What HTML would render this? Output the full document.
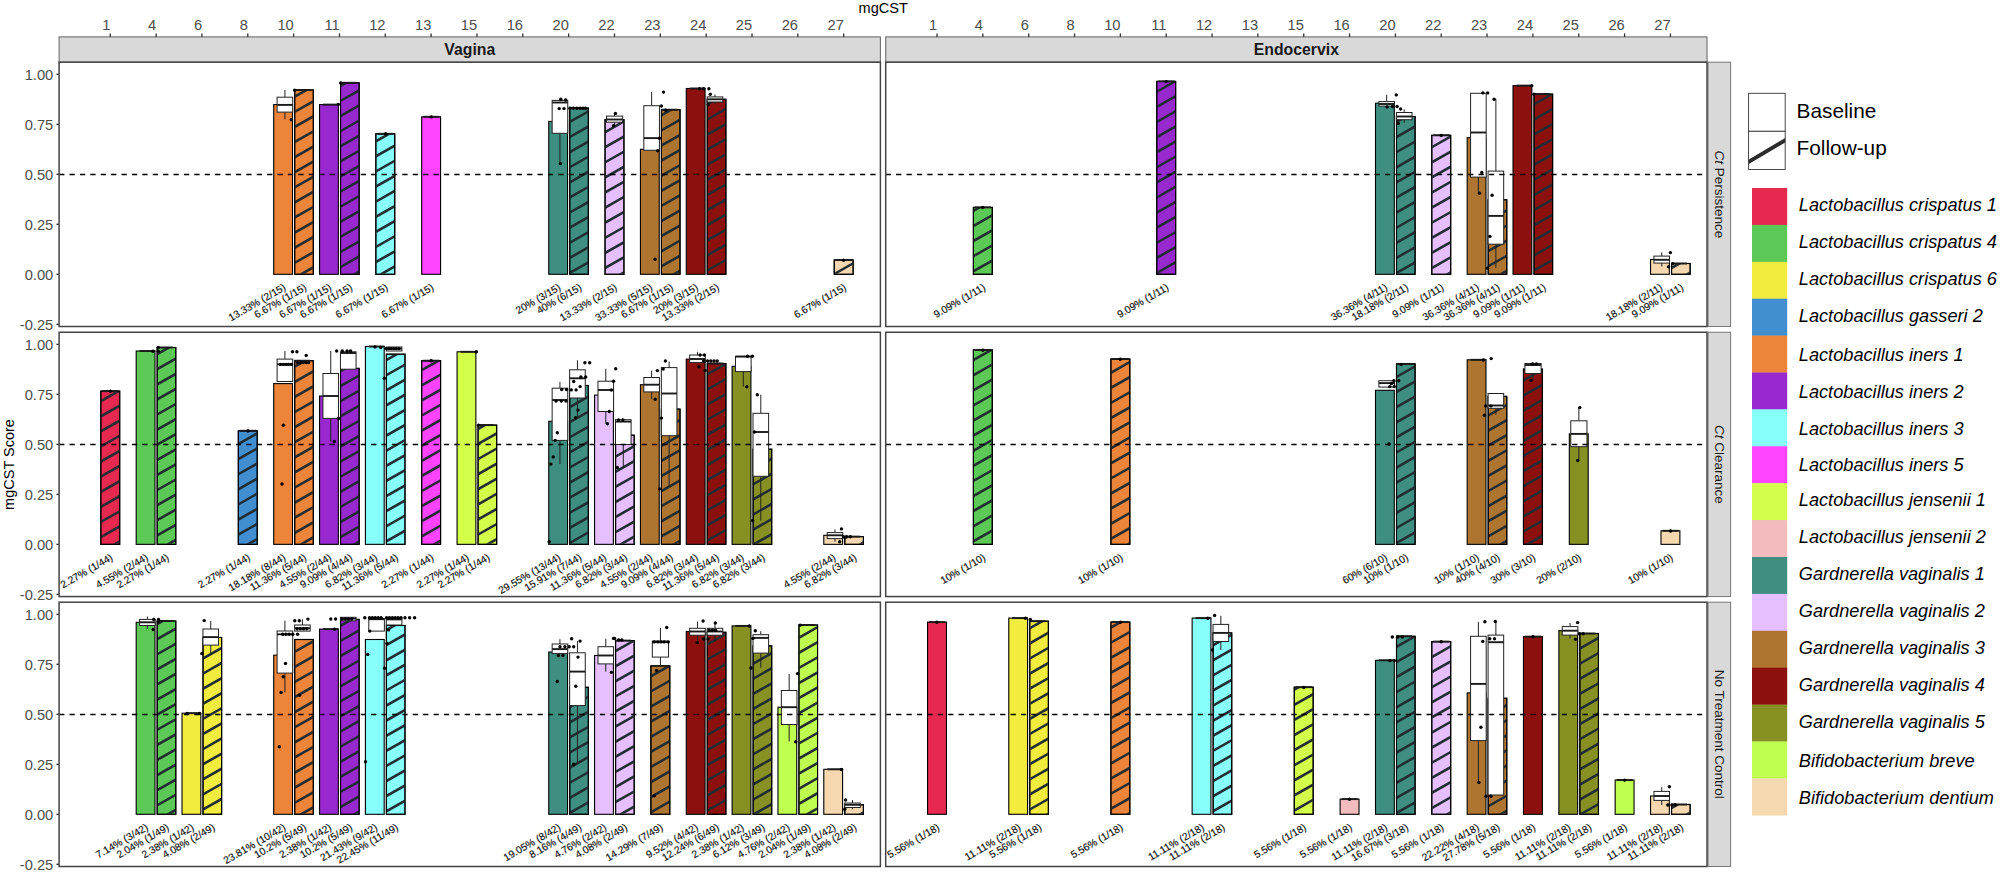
<!DOCTYPE html>
<html lang="en"><head><meta charset="utf-8"><title>mgCST Score by mgCST</title>
<style>html,body{margin:0;padding:0;background:#fff;}body{width:2000px;height:873px;overflow:hidden;}svg{display:block;font-family:'Liberation Sans', sans-serif;}.ax{font-size:14.7px;fill:#4d4d4d;}.ay{font-size:14.7px;fill:#4d4d4d;}.lab{font-size:10.2px;fill:#111;stroke:#111;stroke-width:0.15;}.bar{stroke:#000;stroke-width:1.1;}.bx{fill:#fff;stroke:#222;stroke-width:1;}.wh{stroke:#222;stroke-width:1;fill:none;}.md{stroke:#1a1a1a;stroke-width:1.9;fill:none;}.pt{fill:#000;}.st{stroke:#222d33;stroke-width:2.55;fill:none;}.tk{stroke:#333;stroke-width:1.3;}.leg{font-size:18.2px;font-style:italic;fill:#000;}</style></head><body>
<svg width="2000" height="873" viewBox="0 0 2000 873">
<rect x="0" y="0" width="2000" height="873" fill="#ffffff"/>
<text x="883.2" y="13.3" text-anchor="middle" font-size="14.5" fill="#000">mgCST</text>
<text transform="translate(13.5,464.5) rotate(-90)" text-anchor="middle" font-size="14.5" fill="#000">mgCST Score</text>
<rect x="59.1" y="36.9" width="821.3" height="25.3" fill="#d9d9d9" stroke="#6e6e6e" stroke-width="1.1"/>
<text x="469.75" y="54.85" text-anchor="middle" font-size="15.8" font-weight="bold" fill="#1a1a1a">Vagina</text>
<line class="tk" x1="110.25" y1="33.4" x2="110.25" y2="36.9"/>
<text class="ax" x="110.45" y="30.1" text-anchor="end">1</text>
<line class="tk" x1="156.09" y1="33.4" x2="156.09" y2="36.9"/>
<text class="ax" x="156.29" y="30.1" text-anchor="end">4</text>
<line class="tk" x1="201.93" y1="33.4" x2="201.93" y2="36.9"/>
<text class="ax" x="202.13" y="30.1" text-anchor="end">6</text>
<line class="tk" x1="247.77" y1="33.4" x2="247.77" y2="36.9"/>
<text class="ax" x="247.97" y="30.1" text-anchor="end">8</text>
<line class="tk" x1="293.61" y1="33.4" x2="293.61" y2="36.9"/>
<text class="ax" x="293.81" y="30.1" text-anchor="end">10</text>
<line class="tk" x1="339.45" y1="33.4" x2="339.45" y2="36.9"/>
<text class="ax" x="339.65" y="30.1" text-anchor="end">11</text>
<line class="tk" x1="385.29" y1="33.4" x2="385.29" y2="36.9"/>
<text class="ax" x="385.49" y="30.1" text-anchor="end">12</text>
<line class="tk" x1="431.13" y1="33.4" x2="431.13" y2="36.9"/>
<text class="ax" x="431.33" y="30.1" text-anchor="end">13</text>
<line class="tk" x1="476.97" y1="33.4" x2="476.97" y2="36.9"/>
<text class="ax" x="477.17" y="30.1" text-anchor="end">15</text>
<line class="tk" x1="522.81" y1="33.4" x2="522.81" y2="36.9"/>
<text class="ax" x="523.01" y="30.1" text-anchor="end">16</text>
<line class="tk" x1="568.65" y1="33.4" x2="568.65" y2="36.9"/>
<text class="ax" x="568.85" y="30.1" text-anchor="end">20</text>
<line class="tk" x1="614.49" y1="33.4" x2="614.49" y2="36.9"/>
<text class="ax" x="614.69" y="30.1" text-anchor="end">22</text>
<line class="tk" x1="660.33" y1="33.4" x2="660.33" y2="36.9"/>
<text class="ax" x="660.53" y="30.1" text-anchor="end">23</text>
<line class="tk" x1="706.17" y1="33.4" x2="706.17" y2="36.9"/>
<text class="ax" x="706.37" y="30.1" text-anchor="end">24</text>
<line class="tk" x1="752.01" y1="33.4" x2="752.01" y2="36.9"/>
<text class="ax" x="752.21" y="30.1" text-anchor="end">25</text>
<line class="tk" x1="797.85" y1="33.4" x2="797.85" y2="36.9"/>
<text class="ax" x="798.05" y="30.1" text-anchor="end">26</text>
<line class="tk" x1="843.69" y1="33.4" x2="843.69" y2="36.9"/>
<text class="ax" x="843.89" y="30.1" text-anchor="end">27</text>
<rect x="885.7" y="36.9" width="821.3" height="25.3" fill="#d9d9d9" stroke="#6e6e6e" stroke-width="1.1"/>
<text x="1296.35" y="54.85" text-anchor="middle" font-size="15.8" font-weight="bold" fill="#1a1a1a">Endocervix</text>
<line class="tk" x1="937" y1="33.4" x2="937" y2="36.9"/>
<text class="ax" x="937.2" y="30.1" text-anchor="end">1</text>
<line class="tk" x1="982.84" y1="33.4" x2="982.84" y2="36.9"/>
<text class="ax" x="983.04" y="30.1" text-anchor="end">4</text>
<line class="tk" x1="1028.68" y1="33.4" x2="1028.68" y2="36.9"/>
<text class="ax" x="1028.88" y="30.1" text-anchor="end">6</text>
<line class="tk" x1="1074.52" y1="33.4" x2="1074.52" y2="36.9"/>
<text class="ax" x="1074.72" y="30.1" text-anchor="end">8</text>
<line class="tk" x1="1120.36" y1="33.4" x2="1120.36" y2="36.9"/>
<text class="ax" x="1120.56" y="30.1" text-anchor="end">10</text>
<line class="tk" x1="1166.2" y1="33.4" x2="1166.2" y2="36.9"/>
<text class="ax" x="1166.4" y="30.1" text-anchor="end">11</text>
<line class="tk" x1="1212.04" y1="33.4" x2="1212.04" y2="36.9"/>
<text class="ax" x="1212.24" y="30.1" text-anchor="end">12</text>
<line class="tk" x1="1257.88" y1="33.4" x2="1257.88" y2="36.9"/>
<text class="ax" x="1258.08" y="30.1" text-anchor="end">13</text>
<line class="tk" x1="1303.72" y1="33.4" x2="1303.72" y2="36.9"/>
<text class="ax" x="1303.92" y="30.1" text-anchor="end">15</text>
<line class="tk" x1="1349.56" y1="33.4" x2="1349.56" y2="36.9"/>
<text class="ax" x="1349.76" y="30.1" text-anchor="end">16</text>
<line class="tk" x1="1395.4" y1="33.4" x2="1395.4" y2="36.9"/>
<text class="ax" x="1395.6" y="30.1" text-anchor="end">20</text>
<line class="tk" x1="1441.24" y1="33.4" x2="1441.24" y2="36.9"/>
<text class="ax" x="1441.44" y="30.1" text-anchor="end">22</text>
<line class="tk" x1="1487.08" y1="33.4" x2="1487.08" y2="36.9"/>
<text class="ax" x="1487.28" y="30.1" text-anchor="end">23</text>
<line class="tk" x1="1532.92" y1="33.4" x2="1532.92" y2="36.9"/>
<text class="ax" x="1533.12" y="30.1" text-anchor="end">24</text>
<line class="tk" x1="1578.76" y1="33.4" x2="1578.76" y2="36.9"/>
<text class="ax" x="1578.96" y="30.1" text-anchor="end">25</text>
<line class="tk" x1="1624.6" y1="33.4" x2="1624.6" y2="36.9"/>
<text class="ax" x="1624.8" y="30.1" text-anchor="end">26</text>
<line class="tk" x1="1670.44" y1="33.4" x2="1670.44" y2="36.9"/>
<text class="ax" x="1670.64" y="30.1" text-anchor="end">27</text>
<rect x="1708" y="62.2" width="22.6" height="264.3" fill="#d9d9d9" stroke="#787878" stroke-width="1.0"/>
<text transform="translate(1714.7,194.35) rotate(90)" text-anchor="middle" font-size="13.5" fill="#1a1a1a"><tspan font-style="italic">Ct</tspan> Persistence</text>
<rect x="1708" y="332.25" width="22.6" height="264.3" fill="#d9d9d9" stroke="#787878" stroke-width="1.0"/>
<text transform="translate(1714.7,464.4) rotate(90)" text-anchor="middle" font-size="13.5" fill="#1a1a1a"><tspan font-style="italic">Ct</tspan> Clearance</text>
<rect x="1708" y="602.2" width="22.6" height="264.3" fill="#d9d9d9" stroke="#787878" stroke-width="1.0"/>
<text transform="translate(1714.7,734.35) rotate(90)" text-anchor="middle" font-size="13.5" fill="#1a1a1a">No Treatment Control</text>
<line class="tk" x1="56.4" y1="74.3" x2="59.1" y2="74.3"/>
<text class="ay" x="53.3" y="79.5" text-anchor="end">1.00</text>
<line class="tk" x1="56.4" y1="124.3" x2="59.1" y2="124.3"/>
<text class="ay" x="53.3" y="129.5" text-anchor="end">0.75</text>
<line class="tk" x1="56.4" y1="174.3" x2="59.1" y2="174.3"/>
<text class="ay" x="53.3" y="179.5" text-anchor="end">0.50</text>
<line class="tk" x1="56.4" y1="224.3" x2="59.1" y2="224.3"/>
<text class="ay" x="53.3" y="229.5" text-anchor="end">0.25</text>
<line class="tk" x1="56.4" y1="274.3" x2="59.1" y2="274.3"/>
<text class="ay" x="53.3" y="279.5" text-anchor="end">0.00</text>
<line class="tk" x1="56.4" y1="324.3" x2="59.1" y2="324.3"/>
<text class="ay" x="53.3" y="329.5" text-anchor="end">-0.25</text>
<line class="tk" x1="56.4" y1="344.35" x2="59.1" y2="344.35"/>
<text class="ay" x="53.3" y="349.55" text-anchor="end">1.00</text>
<line class="tk" x1="56.4" y1="394.35" x2="59.1" y2="394.35"/>
<text class="ay" x="53.3" y="399.55" text-anchor="end">0.75</text>
<line class="tk" x1="56.4" y1="444.35" x2="59.1" y2="444.35"/>
<text class="ay" x="53.3" y="449.55" text-anchor="end">0.50</text>
<line class="tk" x1="56.4" y1="494.35" x2="59.1" y2="494.35"/>
<text class="ay" x="53.3" y="499.55" text-anchor="end">0.25</text>
<line class="tk" x1="56.4" y1="544.35" x2="59.1" y2="544.35"/>
<text class="ay" x="53.3" y="549.55" text-anchor="end">0.00</text>
<line class="tk" x1="56.4" y1="594.35" x2="59.1" y2="594.35"/>
<text class="ay" x="53.3" y="599.55" text-anchor="end">-0.25</text>
<line class="tk" x1="56.4" y1="614.3" x2="59.1" y2="614.3"/>
<text class="ay" x="53.3" y="619.5" text-anchor="end">1.00</text>
<line class="tk" x1="56.4" y1="664.3" x2="59.1" y2="664.3"/>
<text class="ay" x="53.3" y="669.5" text-anchor="end">0.75</text>
<line class="tk" x1="56.4" y1="714.3" x2="59.1" y2="714.3"/>
<text class="ay" x="53.3" y="719.5" text-anchor="end">0.50</text>
<line class="tk" x1="56.4" y1="764.3" x2="59.1" y2="764.3"/>
<text class="ay" x="53.3" y="769.5" text-anchor="end">0.25</text>
<line class="tk" x1="56.4" y1="814.3" x2="59.1" y2="814.3"/>
<text class="ay" x="53.3" y="819.5" text-anchor="end">0.00</text>
<line class="tk" x1="56.4" y1="864.3" x2="59.1" y2="864.3"/>
<text class="ay" x="53.3" y="869.5" text-anchor="end">-0.25</text>
<g>
<rect x="59.1" y="62.2" width="821.3" height="264.3" fill="#fff"/>
<rect class="bar" x="273.71" y="104.6" width="18.8" height="169.7" fill="#EC8439"/>
<rect class="bar" x="294.71" y="90" width="18.6" height="184.3" fill="#EC8439"/>
<clipPath id="c1"><rect x="295.21" y="90.5" width="17.6" height="183.3"/></clipPath>
<path class="st" clip-path="url(#c1)" d="M291.71 98.4L316.31 84.45M291.71 113.5L316.31 99.55M291.71 128.6L316.31 114.65M291.71 143.7L316.31 129.75M291.71 158.8L316.31 144.85M291.71 173.9L316.31 159.95M291.71 189L316.31 175.05M291.71 204.1L316.31 190.15M291.71 219.2L316.31 205.25M291.71 234.3L316.31 220.35M291.71 249.4L316.31 235.45M291.71 264.5L316.31 250.55M291.71 279.6L316.31 265.65"/>
<rect x="294.71" y="90" width="18.6" height="184.3" fill="none" stroke="#000" stroke-width="1.1"/>
<rect class="bar" x="319.55" y="104.6" width="18.8" height="169.7" fill="#9829CF"/>
<rect class="bar" x="340.55" y="82.8" width="18.6" height="191.5" fill="#9829CF"/>
<clipPath id="c2"><rect x="341.05" y="83.3" width="17.6" height="190.5"/></clipPath>
<path class="st" clip-path="url(#c2)" d="M337.55 87.51L362.15 73.56M337.55 102.61L362.15 88.66M337.55 117.71L362.15 103.76M337.55 132.81L362.15 118.86M337.55 147.91L362.15 133.96M337.55 163.01L362.15 149.06M337.55 178.11L362.15 164.16M337.55 193.21L362.15 179.26M337.55 208.31L362.15 194.36M337.55 223.41L362.15 209.46M337.55 238.51L362.15 224.56M337.55 253.61L362.15 239.66M337.55 268.71L362.15 254.76M337.55 283.81L362.15 269.86"/>
<rect x="340.55" y="82.8" width="18.6" height="191.5" fill="none" stroke="#000" stroke-width="1.1"/>
<rect class="bar" x="375.84" y="133.8" width="18.9" height="140.5" fill="#87FFFB"/>
<clipPath id="c3"><rect x="376.34" y="134.3" width="17.9" height="139.5"/></clipPath>
<path class="st" clip-path="url(#c3)" d="M372.84 143L397.74 128.88M372.84 158.1L397.74 143.98M372.84 173.2L397.74 159.08M372.84 188.3L397.74 174.18M372.84 203.4L397.74 189.28M372.84 218.5L397.74 204.38M372.84 233.6L397.74 219.48M372.84 248.7L397.74 234.58M372.84 263.8L397.74 249.68M372.84 278.9L397.74 264.78"/>
<rect x="375.84" y="133.8" width="18.9" height="140.5" fill="none" stroke="#000" stroke-width="1.1"/>
<rect class="bar" x="421.68" y="116.8" width="18.9" height="157.5" fill="#FF43FF"/>
<rect class="bar" x="548.75" y="121.4" width="18.8" height="152.9" fill="#3F8E82"/>
<rect class="bar" x="569.75" y="108.1" width="18.6" height="166.2" fill="#3F8E82"/>
<clipPath id="c4"><rect x="570.25" y="108.6" width="17.6" height="165.2"/></clipPath>
<path class="st" clip-path="url(#c4)" d="M566.75 108.55L591.35 94.6M566.75 123.65L591.35 109.7M566.75 138.75L591.35 124.8M566.75 153.85L591.35 139.9M566.75 168.95L591.35 155M566.75 184.05L591.35 170.1M566.75 199.15L591.35 185.2M566.75 214.25L591.35 200.3M566.75 229.35L591.35 215.4M566.75 244.45L591.35 230.5M566.75 259.55L591.35 245.6M566.75 274.65L591.35 260.7M566.75 289.75L591.35 275.8"/>
<rect x="569.75" y="108.1" width="18.6" height="166.2" fill="none" stroke="#000" stroke-width="1.1"/>
<rect class="bar" x="605.04" y="119.7" width="18.9" height="154.6" fill="#E5BFFF"/>
<clipPath id="c5"><rect x="605.54" y="120.2" width="17.9" height="153.6"/></clipPath>
<path class="st" clip-path="url(#c5)" d="M602.04 118.74L626.94 104.63M602.04 133.84L626.94 119.73M602.04 148.94L626.94 134.83M602.04 164.04L626.94 149.93M602.04 179.14L626.94 165.03M602.04 194.24L626.94 180.13M602.04 209.34L626.94 195.23M602.04 224.44L626.94 210.33M602.04 239.54L626.94 225.43M602.04 254.64L626.94 240.53M602.04 269.74L626.94 255.63M602.04 284.84L626.94 270.73"/>
<rect x="605.04" y="119.7" width="18.9" height="154.6" fill="none" stroke="#000" stroke-width="1.1"/>
<rect class="bar" x="640.43" y="149.3" width="18.8" height="125" fill="#AE7530"/>
<rect class="bar" x="661.43" y="109.7" width="18.6" height="164.6" fill="#AE7530"/>
<clipPath id="c6"><rect x="661.93" y="110.2" width="17.6" height="163.6"/></clipPath>
<path class="st" clip-path="url(#c6)" d="M658.43 116.97L683.03 103.02M658.43 132.07L683.03 118.12M658.43 147.17L683.03 133.22M658.43 162.27L683.03 148.32M658.43 177.37L683.03 163.42M658.43 192.47L683.03 178.52M658.43 207.57L683.03 193.62M658.43 222.67L683.03 208.72M658.43 237.77L683.03 223.82M658.43 252.87L683.03 238.92M658.43 267.97L683.03 254.02M658.43 283.07L683.03 269.12"/>
<rect x="661.43" y="109.7" width="18.6" height="164.6" fill="none" stroke="#000" stroke-width="1.1"/>
<rect class="bar" x="686.27" y="88.5" width="18.8" height="185.8" fill="#8C110E"/>
<rect class="bar" x="707.27" y="99.3" width="18.6" height="175" fill="#8C110E"/>
<clipPath id="c7"><rect x="707.77" y="99.8" width="17.6" height="174"/></clipPath>
<path class="st" clip-path="url(#c7)" d="M704.27 106.08L728.87 92.13M704.27 121.18L728.87 107.23M704.27 136.28L728.87 122.33M704.27 151.38L728.87 137.43M704.27 166.48L728.87 152.53M704.27 181.58L728.87 167.63M704.27 196.68L728.87 182.73M704.27 211.78L728.87 197.83M704.27 226.88L728.87 212.93M704.27 241.98L728.87 228.03M704.27 257.08L728.87 243.13M704.27 272.18L728.87 258.23M704.27 287.28L728.87 273.33"/>
<rect x="707.27" y="99.3" width="18.6" height="175" fill="none" stroke="#000" stroke-width="1.1"/>
<rect class="bar" x="834.24" y="260" width="18.9" height="14.3" fill="#F5D8B0"/>
<clipPath id="c8"><rect x="834.74" y="260.5" width="17.9" height="13.3"/></clipPath>
<path class="st" clip-path="url(#c8)" d="M831.24 260.59L856.14 246.47M831.24 275.69L856.14 261.57M831.24 290.79L856.14 276.67"/>
<rect x="834.24" y="260" width="18.9" height="14.3" fill="none" stroke="#000" stroke-width="1.1"/>
<line class="wh" x1="284.91" y1="90" x2="284.91" y2="97.2"/>
<line class="wh" x1="284.91" y1="112.1" x2="284.91" y2="119.3"/>
<rect class="bx" x="277.11" y="97.2" width="15.6" height="14.9"/>
<line class="md" x1="277.11" y1="104.9" x2="292.71" y2="104.9"/>
<line class="md" x1="294.61" y1="90" x2="310.21" y2="90"/>
<line class="md" x1="322.95" y1="104.6" x2="338.55" y2="104.6"/>
<line class="md" x1="340.45" y1="82.8" x2="356.05" y2="82.8"/>
<line class="md" x1="377.29" y1="133.8" x2="393.49" y2="133.8"/>
<line class="md" x1="423.13" y1="116.8" x2="439.33" y2="116.8"/>
<line class="wh" x1="559.95" y1="98.6" x2="559.95" y2="100.4"/>
<line class="wh" x1="559.95" y1="133.3" x2="559.95" y2="163.4"/>
<rect class="bx" x="552.15" y="100.4" width="15.6" height="32.9"/>
<line class="md" x1="552.15" y1="102.5" x2="567.75" y2="102.5"/>
<line class="md" x1="569.65" y1="108.1" x2="585.25" y2="108.1"/>
<line class="wh" x1="614.59" y1="113.4" x2="614.59" y2="116.1"/>
<line class="wh" x1="614.59" y1="122.2" x2="614.59" y2="125.8"/>
<rect class="bx" x="606.49" y="116.1" width="16.2" height="6.1"/>
<line class="md" x1="606.49" y1="119.5" x2="622.69" y2="119.5"/>
<line class="wh" x1="651.63" y1="92.1" x2="651.63" y2="105.7"/>
<rect class="bx" x="643.83" y="105.7" width="15.6" height="44.6"/>
<line class="md" x1="643.83" y1="138.1" x2="659.43" y2="138.1"/>
<line class="md" x1="661.33" y1="109.7" x2="676.93" y2="109.7"/>
<line class="md" x1="689.67" y1="88.5" x2="705.27" y2="88.5"/>
<line class="wh" x1="714.97" y1="94.5" x2="714.97" y2="96.9"/>
<line class="wh" x1="714.97" y1="102" x2="714.97" y2="104.1"/>
<rect class="bx" x="707.17" y="96.9" width="15.6" height="5.1"/>
<line class="md" x1="707.17" y1="99.3" x2="722.77" y2="99.3"/>
<line class="md" x1="835.69" y1="260" x2="851.89" y2="260"/>
<circle class="pt" cx="291.3" cy="119.8" r="1.7"/>
<circle class="pt" cx="294.7" cy="90.2" r="1.7"/>
<circle class="pt" cx="338.3" cy="104.5" r="1.7"/>
<circle class="pt" cx="340.7" cy="82.9" r="1.7"/>
<circle class="pt" cx="385.6" cy="133.8" r="1.7"/>
<circle class="pt" cx="431.3" cy="116.9" r="1.7"/>
<circle class="pt" cx="560.4" cy="163.6" r="1.7"/>
<circle class="pt" cx="559.2" cy="108.6" r="1.7"/>
<circle class="pt" cx="564" cy="108.6" r="1.7"/>
<circle class="pt" cx="560.8" cy="99.3" r="1.7"/>
<circle class="pt" cx="565.7" cy="100" r="1.7"/>
<circle class="pt" cx="569.9" cy="108.3" r="1.7"/>
<circle class="pt" cx="573.4" cy="108.3" r="1.7"/>
<circle class="pt" cx="576.9" cy="108.3" r="1.7"/>
<circle class="pt" cx="580.1" cy="108.3" r="1.7"/>
<circle class="pt" cx="583" cy="108.3" r="1.7"/>
<circle class="pt" cx="585.4" cy="108.3" r="1.7"/>
<circle class="pt" cx="615.4" cy="113.4" r="1.7"/>
<circle class="pt" cx="613.5" cy="125.8" r="1.7"/>
<circle class="pt" cx="663.5" cy="92.1" r="1.7"/>
<circle class="pt" cx="661.4" cy="106" r="1.7"/>
<circle class="pt" cx="659.5" cy="138.3" r="1.7"/>
<circle class="pt" cx="657.6" cy="150.8" r="1.7"/>
<circle class="pt" cx="655" cy="259.3" r="1.7"/>
<circle class="pt" cx="665.6" cy="110.2" r="1.7"/>
<circle class="pt" cx="699.6" cy="88.8" r="1.7"/>
<circle class="pt" cx="703.6" cy="88.8" r="1.7"/>
<circle class="pt" cx="708.9" cy="88.8" r="1.7"/>
<circle class="pt" cx="710.3" cy="94.2" r="1.7"/>
<circle class="pt" cx="708.4" cy="104.6" r="1.7"/>
<circle class="pt" cx="843.6" cy="260.2" r="1.7"/>
<line x1="59.1" y1="174.4" x2="880.4" y2="174.4" stroke="#000" stroke-width="1.45" stroke-dasharray="5.3 5.1"/>
<text class="lab" text-anchor="end" transform="translate(286.41,289.4) rotate(-30)">13.33% (2/15)</text>
<text class="lab" text-anchor="end" transform="translate(307.31,289.4) rotate(-30)">6.67% (1/15)</text>
<text class="lab" text-anchor="end" transform="translate(332.25,289.4) rotate(-30)">6.67% (1/15)</text>
<text class="lab" text-anchor="end" transform="translate(353.15,289.4) rotate(-30)">6.67% (1/15)</text>
<text class="lab" text-anchor="end" transform="translate(388.59,289.4) rotate(-30)">6.67% (1/15)</text>
<text class="lab" text-anchor="end" transform="translate(434.43,289.4) rotate(-30)">6.67% (1/15)</text>
<text class="lab" text-anchor="end" transform="translate(561.45,289.4) rotate(-30)">20% (3/15)</text>
<text class="lab" text-anchor="end" transform="translate(582.35,289.4) rotate(-30)">40% (6/15)</text>
<text class="lab" text-anchor="end" transform="translate(617.79,289.4) rotate(-30)">13.33% (2/15)</text>
<text class="lab" text-anchor="end" transform="translate(653.13,289.4) rotate(-30)">33.33% (5/15)</text>
<text class="lab" text-anchor="end" transform="translate(674.03,289.4) rotate(-30)">6.67% (1/15)</text>
<text class="lab" text-anchor="end" transform="translate(698.97,289.4) rotate(-30)">20% (3/15)</text>
<text class="lab" text-anchor="end" transform="translate(719.87,289.4) rotate(-30)">13.33% (2/15)</text>
<text class="lab" text-anchor="end" transform="translate(846.99,289.4) rotate(-30)">6.67% (1/15)</text>
<rect x="59.1" y="62.2" width="821.3" height="264.3" fill="none" stroke="#444" stroke-width="1.5"/>
</g>
<g>
<rect x="885.7" y="62.2" width="821.3" height="264.3" fill="#fff"/>
<rect class="bar" x="973.39" y="207.4" width="18.9" height="66.9" fill="#5CC855"/>
<clipPath id="c9"><rect x="973.89" y="207.9" width="17.9" height="65.9"/></clipPath>
<path class="st" clip-path="url(#c9)" d="M970.39 212.56L995.29 198.44M970.39 227.66L995.29 213.54M970.39 242.76L995.29 228.64M970.39 257.86L995.29 243.74M970.39 272.96L995.29 258.84M970.39 288.06L995.29 273.94"/>
<rect x="973.39" y="207.4" width="18.9" height="66.9" fill="none" stroke="#000" stroke-width="1.1"/>
<rect class="bar" x="1156.75" y="81.4" width="18.9" height="192.9" fill="#9829CF"/>
<clipPath id="c10"><rect x="1157.25" y="81.9" width="17.9" height="191.9"/></clipPath>
<path class="st" clip-path="url(#c10)" d="M1153.75 93.49L1178.65 79.37M1153.75 108.59L1178.65 94.47M1153.75 123.69L1178.65 109.57M1153.75 138.79L1178.65 124.67M1153.75 153.89L1178.65 139.77M1153.75 168.99L1178.65 154.87M1153.75 184.09L1178.65 169.97M1153.75 199.19L1178.65 185.07M1153.75 214.29L1178.65 200.17M1153.75 229.39L1178.65 215.27M1153.75 244.49L1178.65 230.37M1153.75 259.59L1178.65 245.47M1153.75 274.69L1178.65 260.57M1153.75 289.79L1178.65 275.67"/>
<rect x="1156.75" y="81.4" width="18.9" height="192.9" fill="none" stroke="#000" stroke-width="1.1"/>
<rect class="bar" x="1375.5" y="103.2" width="18.8" height="171.1" fill="#3F8E82"/>
<rect class="bar" x="1396.5" y="116.5" width="18.6" height="157.8" fill="#3F8E82"/>
<clipPath id="c11"><rect x="1397" y="117" width="17.6" height="156.8"/></clipPath>
<path class="st" clip-path="url(#c11)" d="M1393.5 123.65L1418.1 109.7M1393.5 138.75L1418.1 124.8M1393.5 153.85L1418.1 139.9M1393.5 168.95L1418.1 155M1393.5 184.05L1418.1 170.1M1393.5 199.15L1418.1 185.2M1393.5 214.25L1418.1 200.3M1393.5 229.35L1418.1 215.4M1393.5 244.45L1418.1 230.5M1393.5 259.55L1418.1 245.6M1393.5 274.65L1418.1 260.7M1393.5 289.75L1418.1 275.8"/>
<rect x="1396.5" y="116.5" width="18.6" height="157.8" fill="none" stroke="#000" stroke-width="1.1"/>
<rect class="bar" x="1431.79" y="135.3" width="18.9" height="139" fill="#E5BFFF"/>
<clipPath id="c12"><rect x="1432.29" y="135.8" width="17.9" height="138"/></clipPath>
<path class="st" clip-path="url(#c12)" d="M1428.79 133.84L1453.69 119.73M1428.79 148.94L1453.69 134.83M1428.79 164.04L1453.69 149.93M1428.79 179.14L1453.69 165.03M1428.79 194.24L1453.69 180.13M1428.79 209.34L1453.69 195.23M1428.79 224.44L1453.69 210.33M1428.79 239.54L1453.69 225.43M1428.79 254.64L1453.69 240.53M1428.79 269.74L1453.69 255.63M1428.79 284.84L1453.69 270.73"/>
<rect x="1431.79" y="135.3" width="18.9" height="139" fill="none" stroke="#000" stroke-width="1.1"/>
<rect class="bar" x="1467.18" y="137.7" width="18.8" height="136.6" fill="#AE7530"/>
<rect class="bar" x="1488.18" y="199.7" width="18.6" height="74.6" fill="#AE7530"/>
<clipPath id="c13"><rect x="1488.68" y="200.2" width="17.6" height="73.6"/></clipPath>
<path class="st" clip-path="url(#c13)" d="M1485.18 207.57L1509.78 193.62M1485.18 222.67L1509.78 208.72M1485.18 237.77L1509.78 223.82M1485.18 252.87L1509.78 238.92M1485.18 267.97L1509.78 254.02M1485.18 283.07L1509.78 269.12"/>
<rect x="1488.18" y="199.7" width="18.6" height="74.6" fill="none" stroke="#000" stroke-width="1.1"/>
<rect class="bar" x="1513.02" y="85.6" width="18.8" height="188.7" fill="#8C110E"/>
<rect class="bar" x="1534.02" y="94.1" width="18.6" height="180.2" fill="#8C110E"/>
<clipPath id="c14"><rect x="1534.52" y="94.6" width="17.6" height="179.2"/></clipPath>
<path class="st" clip-path="url(#c14)" d="M1531.02 106.08L1555.62 92.13M1531.02 121.18L1555.62 107.23M1531.02 136.28L1555.62 122.33M1531.02 151.38L1555.62 137.43M1531.02 166.48L1555.62 152.53M1531.02 181.58L1555.62 167.63M1531.02 196.68L1555.62 182.73M1531.02 211.78L1555.62 197.83M1531.02 226.88L1555.62 212.93M1531.02 241.98L1555.62 228.03M1531.02 257.08L1555.62 243.13M1531.02 272.18L1555.62 258.23M1531.02 287.28L1555.62 273.33"/>
<rect x="1534.02" y="94.1" width="18.6" height="180.2" fill="none" stroke="#000" stroke-width="1.1"/>
<rect class="bar" x="1650.54" y="259.5" width="18.8" height="14.8" fill="#F5D8B0"/>
<rect class="bar" x="1671.54" y="263.5" width="18.6" height="10.8" fill="#F5D8B0"/>
<clipPath id="c15"><rect x="1672.04" y="264" width="17.6" height="9.8"/></clipPath>
<path class="st" clip-path="url(#c15)" d="M1668.54 269.71L1693.14 255.76M1668.54 284.81L1693.14 270.86"/>
<rect x="1671.54" y="263.5" width="18.6" height="10.8" fill="none" stroke="#000" stroke-width="1.1"/>
<line class="md" x1="974.84" y1="207.4" x2="991.04" y2="207.4"/>
<line class="md" x1="1158.2" y1="81.4" x2="1174.4" y2="81.4"/>
<line class="wh" x1="1386.7" y1="94.9" x2="1386.7" y2="101.6"/>
<rect class="bx" x="1378.9" y="101.6" width="15.6" height="4.5"/>
<line class="md" x1="1378.9" y1="104" x2="1394.5" y2="104"/>
<line class="wh" x1="1404.2" y1="109.3" x2="1404.2" y2="112.5"/>
<line class="wh" x1="1404.2" y1="119.7" x2="1404.2" y2="122.9"/>
<rect class="bx" x="1396.4" y="112.5" width="15.6" height="7.2"/>
<line class="md" x1="1396.4" y1="116.5" x2="1412" y2="116.5"/>
<line class="md" x1="1433.24" y1="135.3" x2="1449.44" y2="135.3"/>
<line class="wh" x1="1478.38" y1="177.1" x2="1478.38" y2="193.2"/>
<rect class="bx" x="1470.58" y="93.3" width="15.6" height="83.8"/>
<line class="md" x1="1470.58" y1="132.5" x2="1486.18" y2="132.5"/>
<line class="wh" x1="1495.88" y1="98.9" x2="1495.88" y2="171.1"/>
<line class="wh" x1="1495.88" y1="244.2" x2="1495.88" y2="268"/>
<rect class="bx" x="1488.08" y="171.1" width="15.6" height="73.1"/>
<line class="md" x1="1488.08" y1="215.9" x2="1503.68" y2="215.9"/>
<line class="md" x1="1516.42" y1="85.6" x2="1532.02" y2="85.6"/>
<line class="md" x1="1533.92" y1="94.1" x2="1549.52" y2="94.1"/>
<line class="wh" x1="1661.74" y1="252.3" x2="1661.74" y2="256.1"/>
<line class="wh" x1="1661.74" y1="263.1" x2="1661.74" y2="266.5"/>
<rect class="bx" x="1653.94" y="256.1" width="15.6" height="7"/>
<line class="md" x1="1653.94" y1="259.8" x2="1669.54" y2="259.8"/>
<line class="md" x1="1671.44" y1="263.5" x2="1687.04" y2="263.5"/>
<circle class="pt" cx="982.8" cy="207.5" r="1.7"/>
<circle class="pt" cx="1166.2" cy="81.6" r="1.7"/>
<circle class="pt" cx="1396.3" cy="94.9" r="1.7"/>
<circle class="pt" cx="1387.1" cy="106.9" r="1.7"/>
<circle class="pt" cx="1392.6" cy="106.5" r="1.7"/>
<circle class="pt" cx="1397.1" cy="106.5" r="1.7"/>
<circle class="pt" cx="1400.6" cy="109" r="1.7"/>
<circle class="pt" cx="1398.2" cy="123.4" r="1.7"/>
<circle class="pt" cx="1441.2" cy="135.4" r="1.7"/>
<circle class="pt" cx="1482.9" cy="92.9" r="1.7"/>
<circle class="pt" cx="1487.7" cy="92.9" r="1.7"/>
<circle class="pt" cx="1481.8" cy="172.5" r="1.7"/>
<circle class="pt" cx="1479.4" cy="193.2" r="1.7"/>
<circle class="pt" cx="1494.1" cy="99.2" r="1.7"/>
<circle class="pt" cx="1492.1" cy="195.2" r="1.7"/>
<circle class="pt" cx="1489.9" cy="236.4" r="1.7"/>
<circle class="pt" cx="1487.4" cy="268.3" r="1.7"/>
<circle class="pt" cx="1531.8" cy="85.7" r="1.7"/>
<circle class="pt" cx="1533.9" cy="94.2" r="1.7"/>
<circle class="pt" cx="1670.4" cy="252.6" r="1.7"/>
<circle class="pt" cx="1668.6" cy="266.8" r="1.7"/>
<circle class="pt" cx="1672.8" cy="263.7" r="1.7"/>
<line x1="885.7" y1="174.4" x2="1707" y2="174.4" stroke="#000" stroke-width="1.45" stroke-dasharray="5.3 5.1"/>
<text class="lab" text-anchor="end" transform="translate(986.14,289.4) rotate(-30)">9.09% (1/11)</text>
<text class="lab" text-anchor="end" transform="translate(1169.5,289.4) rotate(-30)">9.09% (1/11)</text>
<text class="lab" text-anchor="end" transform="translate(1388.2,289.4) rotate(-30)">36.36% (4/11)</text>
<text class="lab" text-anchor="end" transform="translate(1409.1,289.4) rotate(-30)">18.18% (2/11)</text>
<text class="lab" text-anchor="end" transform="translate(1444.54,289.4) rotate(-30)">9.09% (1/11)</text>
<text class="lab" text-anchor="end" transform="translate(1479.88,289.4) rotate(-30)">36.36% (4/11)</text>
<text class="lab" text-anchor="end" transform="translate(1500.78,289.4) rotate(-30)">36.36% (4/11)</text>
<text class="lab" text-anchor="end" transform="translate(1525.72,289.4) rotate(-30)">9.09% (1/11)</text>
<text class="lab" text-anchor="end" transform="translate(1546.62,289.4) rotate(-30)">9.09% (1/11)</text>
<text class="lab" text-anchor="end" transform="translate(1663.24,289.4) rotate(-30)">18.18% (2/11)</text>
<text class="lab" text-anchor="end" transform="translate(1684.14,289.4) rotate(-30)">9.09% (1/11)</text>
<rect x="885.7" y="62.2" width="821.3" height="264.3" fill="none" stroke="#444" stroke-width="1.5"/>
</g>
<g>
<rect x="59.1" y="332.25" width="821.3" height="264.3" fill="#fff"/>
<rect class="bar" x="100.8" y="391.1" width="18.9" height="153.25" fill="#E7284F"/>
<clipPath id="c16"><rect x="101.3" y="391.6" width="17.9" height="152.25"/></clipPath>
<path class="st" clip-path="url(#c16)" d="M97.8 402.9L122.7 388.78M97.8 418L122.7 403.88M97.8 433.1L122.7 418.98M97.8 448.2L122.7 434.08M97.8 463.3L122.7 449.18M97.8 478.4L122.7 464.28M97.8 493.5L122.7 479.38M97.8 508.6L122.7 494.48M97.8 523.7L122.7 509.58M97.8 538.8L122.7 524.68M97.8 553.9L122.7 539.78"/>
<rect x="100.8" y="391.1" width="18.9" height="153.25" fill="none" stroke="#000" stroke-width="1.1"/>
<rect class="bar" x="136.19" y="351" width="18.8" height="193.35" fill="#5CC855"/>
<rect class="bar" x="157.19" y="347.5" width="18.6" height="196.85" fill="#5CC855"/>
<clipPath id="c17"><rect x="157.69" y="348" width="17.6" height="195.85"/></clipPath>
<path class="st" clip-path="url(#c17)" d="M154.19 355.82L178.79 341.88M154.19 370.92L178.79 356.98M154.19 386.02L178.79 372.08M154.19 401.12L178.79 387.18M154.19 416.22L178.79 402.28M154.19 431.32L178.79 417.38M154.19 446.42L178.79 432.48M154.19 461.52L178.79 447.58M154.19 476.62L178.79 462.68M154.19 491.72L178.79 477.78M154.19 506.82L178.79 492.88M154.19 521.92L178.79 507.98M154.19 537.02L178.79 523.08M154.19 552.12L178.79 538.18"/>
<rect x="157.19" y="347.5" width="18.6" height="196.85" fill="none" stroke="#000" stroke-width="1.1"/>
<rect class="bar" x="238.32" y="430.8" width="18.9" height="113.55" fill="#418FD1"/>
<clipPath id="c18"><rect x="238.82" y="431.3" width="17.9" height="112.55"/></clipPath>
<path class="st" clip-path="url(#c18)" d="M235.32 430.62L260.22 416.51M235.32 445.72L260.22 431.61M235.32 460.82L260.22 446.71M235.32 475.92L260.22 461.81M235.32 491.02L260.22 476.91M235.32 506.12L260.22 492.01M235.32 521.22L260.22 507.11M235.32 536.32L260.22 522.21M235.32 551.42L260.22 537.31"/>
<rect x="238.32" y="430.8" width="18.9" height="113.55" fill="none" stroke="#000" stroke-width="1.1"/>
<rect class="bar" x="273.71" y="383.6" width="18.8" height="160.75" fill="#EC8439"/>
<rect class="bar" x="294.71" y="360.7" width="18.6" height="183.65" fill="#EC8439"/>
<clipPath id="c19"><rect x="295.21" y="361.2" width="17.6" height="182.65"/></clipPath>
<path class="st" clip-path="url(#c19)" d="M291.71 368.45L316.31 354.5M291.71 383.55L316.31 369.6M291.71 398.65L316.31 384.7M291.71 413.75L316.31 399.8M291.71 428.85L316.31 414.9M291.71 443.95L316.31 430M291.71 459.05L316.31 445.1M291.71 474.15L316.31 460.2M291.71 489.25L316.31 475.3M291.71 504.35L316.31 490.4M291.71 519.45L316.31 505.5M291.71 534.55L316.31 520.6M291.71 549.65L316.31 535.7"/>
<rect x="294.71" y="360.7" width="18.6" height="183.65" fill="none" stroke="#000" stroke-width="1.1"/>
<rect class="bar" x="319.55" y="396" width="18.8" height="148.35" fill="#9829CF"/>
<rect class="bar" x="340.55" y="368.4" width="18.6" height="175.95" fill="#9829CF"/>
<clipPath id="c20"><rect x="341.05" y="368.9" width="17.6" height="174.95"/></clipPath>
<path class="st" clip-path="url(#c20)" d="M337.55 372.66L362.15 358.71M337.55 387.76L362.15 373.81M337.55 402.86L362.15 388.91M337.55 417.96L362.15 404.01M337.55 433.06L362.15 419.11M337.55 448.16L362.15 434.21M337.55 463.26L362.15 449.31M337.55 478.36L362.15 464.41M337.55 493.46L362.15 479.51M337.55 508.56L362.15 494.61M337.55 523.66L362.15 509.71M337.55 538.76L362.15 524.81M337.55 553.86L362.15 539.91"/>
<rect x="340.55" y="368.4" width="18.6" height="175.95" fill="none" stroke="#000" stroke-width="1.1"/>
<rect class="bar" x="365.39" y="346.5" width="18.8" height="197.85" fill="#87FFFB"/>
<rect class="bar" x="386.39" y="354.2" width="18.6" height="190.15" fill="#87FFFB"/>
<clipPath id="c21"><rect x="386.89" y="354.7" width="17.6" height="189.15"/></clipPath>
<path class="st" clip-path="url(#c21)" d="M383.39 361.77L407.99 347.82M383.39 376.87L407.99 362.92M383.39 391.97L407.99 378.02M383.39 407.07L407.99 393.12M383.39 422.17L407.99 408.22M383.39 437.27L407.99 423.32M383.39 452.37L407.99 438.42M383.39 467.47L407.99 453.52M383.39 482.57L407.99 468.62M383.39 497.67L407.99 483.72M383.39 512.77L407.99 498.82M383.39 527.87L407.99 513.92M383.39 542.97L407.99 529.02M383.39 558.07L407.99 544.12"/>
<rect x="386.39" y="354.2" width="18.6" height="190.15" fill="none" stroke="#000" stroke-width="1.1"/>
<rect class="bar" x="421.68" y="360.7" width="18.9" height="183.65" fill="#FF43FF"/>
<clipPath id="c22"><rect x="422.18" y="361.2" width="17.9" height="182.65"/></clipPath>
<path class="st" clip-path="url(#c22)" d="M418.68 371.96L443.58 357.84M418.68 387.06L443.58 372.94M418.68 402.16L443.58 388.04M418.68 417.26L443.58 403.14M418.68 432.36L443.58 418.24M418.68 447.46L443.58 433.34M418.68 462.56L443.58 448.44M418.68 477.66L443.58 463.54M418.68 492.76L443.58 478.64M418.68 507.86L443.58 493.74M418.68 522.96L443.58 508.84M418.68 538.06L443.58 523.94M418.68 553.16L443.58 539.04"/>
<rect x="421.68" y="360.7" width="18.9" height="183.65" fill="none" stroke="#000" stroke-width="1.1"/>
<rect class="bar" x="457.07" y="351.8" width="18.8" height="192.55" fill="#D3FF4B"/>
<rect class="bar" x="478.07" y="425.1" width="18.6" height="119.25" fill="#D3FF4B"/>
<clipPath id="c23"><rect x="478.57" y="425.6" width="17.6" height="118.25"/></clipPath>
<path class="st" clip-path="url(#c23)" d="M475.07 430.59L499.67 416.64M475.07 445.69L499.67 431.74M475.07 460.79L499.67 446.84M475.07 475.89L499.67 461.94M475.07 490.99L499.67 477.04M475.07 506.09L499.67 492.14M475.07 521.19L499.67 507.24M475.07 536.29L499.67 522.34M475.07 551.39L499.67 537.44"/>
<rect x="478.07" y="425.1" width="18.6" height="119.25" fill="none" stroke="#000" stroke-width="1.1"/>
<rect class="bar" x="548.75" y="421.3" width="18.8" height="123.05" fill="#3F8E82"/>
<rect class="bar" x="569.75" y="385.5" width="18.6" height="158.85" fill="#3F8E82"/>
<clipPath id="c24"><rect x="570.25" y="386" width="17.6" height="157.85"/></clipPath>
<path class="st" clip-path="url(#c24)" d="M566.75 393.7L591.35 379.75M566.75 408.8L591.35 394.85M566.75 423.9L591.35 409.95M566.75 439L591.35 425.05M566.75 454.1L591.35 440.15M566.75 469.2L591.35 455.25M566.75 484.3L591.35 470.35M566.75 499.4L591.35 485.45M566.75 514.5L591.35 500.55M566.75 529.6L591.35 515.65M566.75 544.7L591.35 530.75M566.75 559.8L591.35 545.85"/>
<rect x="569.75" y="385.5" width="18.6" height="158.85" fill="none" stroke="#000" stroke-width="1.1"/>
<rect class="bar" x="594.59" y="395.1" width="18.8" height="149.25" fill="#E5BFFF"/>
<rect class="bar" x="615.59" y="435.2" width="18.6" height="109.15" fill="#E5BFFF"/>
<clipPath id="c25"><rect x="616.09" y="435.7" width="17.6" height="108.15"/></clipPath>
<path class="st" clip-path="url(#c25)" d="M612.59 443.21L637.19 429.26M612.59 458.31L637.19 444.36M612.59 473.41L637.19 459.46M612.59 488.51L637.19 474.56M612.59 503.61L637.19 489.66M612.59 518.71L637.19 504.76M612.59 533.81L637.19 519.86M612.59 548.91L637.19 534.96"/>
<rect x="615.59" y="435.2" width="18.6" height="109.15" fill="none" stroke="#000" stroke-width="1.1"/>
<rect class="bar" x="640.43" y="384.7" width="18.8" height="159.65" fill="#AE7530"/>
<rect class="bar" x="661.43" y="409.1" width="18.6" height="135.25" fill="#AE7530"/>
<clipPath id="c26"><rect x="661.93" y="409.6" width="17.6" height="134.25"/></clipPath>
<path class="st" clip-path="url(#c26)" d="M658.43 417.22L683.03 403.27M658.43 432.32L683.03 418.37M658.43 447.42L683.03 433.47M658.43 462.52L683.03 448.57M658.43 477.62L683.03 463.67M658.43 492.72L683.03 478.77M658.43 507.82L683.03 493.87M658.43 522.92L683.03 508.97M658.43 538.02L683.03 524.07M658.43 553.12L683.03 539.17"/>
<rect x="661.43" y="409.1" width="18.6" height="135.25" fill="none" stroke="#000" stroke-width="1.1"/>
<rect class="bar" x="686.27" y="359.1" width="18.8" height="185.25" fill="#8C110E"/>
<rect class="bar" x="707.27" y="363.5" width="18.6" height="180.85" fill="#8C110E"/>
<clipPath id="c27"><rect x="707.77" y="364" width="17.6" height="179.85"/></clipPath>
<path class="st" clip-path="url(#c27)" d="M704.27 361.03L728.87 347.08M704.27 376.13L728.87 362.18M704.27 391.23L728.87 377.28M704.27 406.33L728.87 392.38M704.27 421.43L728.87 407.48M704.27 436.53L728.87 422.58M704.27 451.63L728.87 437.68M704.27 466.73L728.87 452.78M704.27 481.83L728.87 467.88M704.27 496.93L728.87 482.98M704.27 512.03L728.87 498.08M704.27 527.13L728.87 513.18M704.27 542.23L728.87 528.28M704.27 557.33L728.87 543.38"/>
<rect x="707.27" y="363.5" width="18.6" height="180.85" fill="none" stroke="#000" stroke-width="1.1"/>
<rect class="bar" x="732.11" y="366.3" width="18.8" height="178.05" fill="#879123"/>
<rect class="bar" x="753.11" y="449.2" width="18.6" height="95.15" fill="#879123"/>
<clipPath id="c28"><rect x="753.61" y="449.7" width="17.6" height="94.15"/></clipPath>
<path class="st" clip-path="url(#c28)" d="M750.11 455.84L774.71 441.89M750.11 470.94L774.71 456.99M750.11 486.04L774.71 472.09M750.11 501.14L774.71 487.19M750.11 516.24L774.71 502.29M750.11 531.34L774.71 517.39M750.11 546.44L774.71 532.49"/>
<rect x="753.11" y="449.2" width="18.6" height="95.15" fill="none" stroke="#000" stroke-width="1.1"/>
<rect class="bar" x="823.79" y="535.3" width="18.8" height="9.05" fill="#F5D8B0"/>
<rect class="bar" x="844.79" y="536.6" width="18.6" height="7.75" fill="#F5D8B0"/>
<clipPath id="c29"><rect x="845.29" y="537.1" width="17.6" height="6.75"/></clipPath>
<path class="st" clip-path="url(#c29)" d="M841.79 539.76L866.39 525.81M841.79 554.86L866.39 540.91"/>
<rect x="844.79" y="536.6" width="18.6" height="7.75" fill="none" stroke="#000" stroke-width="1.1"/>
<line class="md" x1="102.25" y1="391.1" x2="118.45" y2="391.1"/>
<line class="md" x1="139.59" y1="351" x2="155.19" y2="351"/>
<line class="md" x1="157.09" y1="347.5" x2="172.69" y2="347.5"/>
<line class="md" x1="239.77" y1="430.8" x2="255.97" y2="430.8"/>
<line class="wh" x1="284.91" y1="351" x2="284.91" y2="359.1"/>
<rect class="bx" x="277.11" y="359.1" width="15.6" height="22.4"/>
<line class="md" x1="277.11" y1="364.4" x2="292.71" y2="364.4"/>
<line class="md" x1="294.61" y1="360.7" x2="310.21" y2="360.7"/>
<line class="wh" x1="330.75" y1="351" x2="330.75" y2="373.5"/>
<line class="wh" x1="330.75" y1="418.4" x2="330.75" y2="441.7"/>
<rect class="bx" x="322.95" y="373.5" width="15.6" height="44.9"/>
<line class="md" x1="322.95" y1="396" x2="338.55" y2="396"/>
<rect class="bx" x="340.45" y="351.8" width="15.6" height="17.4"/>
<line class="md" x1="340.45" y1="353" x2="356.05" y2="353"/>
<line class="md" x1="368.79" y1="346.5" x2="384.39" y2="346.5"/>
<rect class="bx" x="386.29" y="347" width="15.6" height="4"/>
<line class="md" x1="386.29" y1="348.6" x2="401.89" y2="348.6"/>
<line class="md" x1="423.13" y1="360.7" x2="439.33" y2="360.7"/>
<line class="md" x1="460.47" y1="351.8" x2="476.07" y2="351.8"/>
<line class="md" x1="477.97" y1="425.1" x2="493.57" y2="425.1"/>
<line class="wh" x1="559.95" y1="381.8" x2="559.95" y2="388.2"/>
<line class="wh" x1="559.95" y1="440.4" x2="559.95" y2="464.1"/>
<rect class="bx" x="552.15" y="388.2" width="15.6" height="52.2"/>
<line class="md" x1="552.15" y1="400" x2="567.75" y2="400"/>
<line class="wh" x1="577.45" y1="360.3" x2="577.45" y2="369.8"/>
<line class="wh" x1="577.45" y1="398" x2="577.45" y2="417.6"/>
<rect class="bx" x="569.65" y="369.8" width="15.6" height="28.2"/>
<line class="md" x1="569.65" y1="378.3" x2="585.25" y2="378.3"/>
<line class="wh" x1="605.79" y1="368.7" x2="605.79" y2="381.2"/>
<line class="wh" x1="605.79" y1="411.5" x2="605.79" y2="423.7"/>
<rect class="bx" x="597.99" y="381.2" width="15.6" height="30.3"/>
<line class="md" x1="597.99" y1="390" x2="613.59" y2="390"/>
<line class="wh" x1="623.29" y1="444.5" x2="623.29" y2="467.5"/>
<rect class="bx" x="615.49" y="419.7" width="15.6" height="24.8"/>
<line class="md" x1="615.49" y1="421.6" x2="631.09" y2="421.6"/>
<line class="wh" x1="651.63" y1="370.6" x2="651.63" y2="377.5"/>
<line class="wh" x1="651.63" y1="391.9" x2="651.63" y2="399.2"/>
<rect class="bx" x="643.83" y="377.5" width="15.6" height="14.4"/>
<line class="md" x1="643.83" y1="384.7" x2="659.43" y2="384.7"/>
<line class="wh" x1="669.13" y1="361.5" x2="669.13" y2="367.6"/>
<line class="wh" x1="669.13" y1="435.7" x2="669.13" y2="486.7"/>
<rect class="bx" x="661.33" y="367.6" width="15.6" height="68.1"/>
<line class="md" x1="661.33" y1="393.5" x2="676.93" y2="393.5"/>
<line class="wh" x1="697.47" y1="351.8" x2="697.47" y2="355"/>
<rect class="bx" x="689.67" y="355" width="15.6" height="7.6"/>
<line class="md" x1="689.67" y1="359" x2="705.27" y2="359"/>
<line class="md" x1="707.17" y1="363.5" x2="722.77" y2="363.5"/>
<line class="wh" x1="743.31" y1="371.6" x2="743.31" y2="386.6"/>
<rect class="bx" x="735.51" y="356.3" width="15.6" height="15.3"/>
<line class="md" x1="735.51" y1="356.6" x2="751.11" y2="356.6"/>
<line class="wh" x1="760.81" y1="394.7" x2="760.81" y2="413.3"/>
<line class="wh" x1="760.81" y1="476.3" x2="760.81" y2="520.6"/>
<rect class="bx" x="753.01" y="413.3" width="15.6" height="63"/>
<line class="md" x1="753.01" y1="432" x2="768.61" y2="432"/>
<line class="wh" x1="834.99" y1="529.4" x2="834.99" y2="532.6"/>
<line class="wh" x1="834.99" y1="538.6" x2="834.99" y2="541.7"/>
<rect class="bx" x="827.19" y="532.6" width="15.6" height="6"/>
<line class="md" x1="827.19" y1="535.3" x2="842.79" y2="535.3"/>
<line class="md" x1="844.69" y1="536.6" x2="860.29" y2="536.6"/>
<circle class="pt" cx="110.5" cy="391.3" r="1.7"/>
<circle class="pt" cx="153" cy="351.2" r="1.7"/>
<circle class="pt" cx="158.3" cy="351.2" r="1.7"/>
<circle class="pt" cx="158.3" cy="347.5" r="1.7"/>
<circle class="pt" cx="248" cy="431" r="1.7"/>
<circle class="pt" cx="280.5" cy="364.4" r="1.7"/>
<circle class="pt" cx="283.4" cy="364.4" r="1.7"/>
<circle class="pt" cx="286.1" cy="364.4" r="1.7"/>
<circle class="pt" cx="288.5" cy="364.4" r="1.7"/>
<circle class="pt" cx="291.4" cy="364.4" r="1.7"/>
<circle class="pt" cx="292.5" cy="351.8" r="1.7"/>
<circle class="pt" cx="283.4" cy="425.2" r="1.7"/>
<circle class="pt" cx="282" cy="484" r="1.7"/>
<circle class="pt" cx="297.4" cy="362.6" r="1.7"/>
<circle class="pt" cx="300.6" cy="362.6" r="1.7"/>
<circle class="pt" cx="303.3" cy="362.6" r="1.7"/>
<circle class="pt" cx="306.2" cy="362.6" r="1.7"/>
<circle class="pt" cx="308.6" cy="362.6" r="1.7"/>
<circle class="pt" cx="296.9" cy="351.8" r="1.7"/>
<circle class="pt" cx="306.2" cy="355.4" r="1.7"/>
<circle class="pt" cx="334.3" cy="441.5" r="1.7"/>
<circle class="pt" cx="338.6" cy="418.4" r="1.7"/>
<circle class="pt" cx="336.7" cy="351" r="1.7"/>
<circle class="pt" cx="342.3" cy="351" r="1.7"/>
<circle class="pt" cx="347.1" cy="351" r="1.7"/>
<circle class="pt" cx="350.5" cy="351" r="1.7"/>
<circle class="pt" cx="375" cy="346.9" r="1.7"/>
<circle class="pt" cx="380.7" cy="347.5" r="1.7"/>
<circle class="pt" cx="384.4" cy="378.3" r="1.7"/>
<circle class="pt" cx="386" cy="348.6" r="1.7"/>
<circle class="pt" cx="388.6" cy="348.6" r="1.7"/>
<circle class="pt" cx="391.2" cy="348.6" r="1.7"/>
<circle class="pt" cx="393.8" cy="348.6" r="1.7"/>
<circle class="pt" cx="396.4" cy="348.6" r="1.7"/>
<circle class="pt" cx="399" cy="348.6" r="1.7"/>
<circle class="pt" cx="431.2" cy="360.8" r="1.7"/>
<circle class="pt" cx="476.4" cy="351.8" r="1.7"/>
<circle class="pt" cx="478.5" cy="425.3" r="1.7"/>
<circle class="pt" cx="561.7" cy="389.5" r="1.7"/>
<circle class="pt" cx="566.5" cy="389.5" r="1.7"/>
<circle class="pt" cx="571.3" cy="389.9" r="1.7"/>
<circle class="pt" cx="576.1" cy="389.9" r="1.7"/>
<circle class="pt" cx="556" cy="401.1" r="1.7"/>
<circle class="pt" cx="561.3" cy="401.1" r="1.7"/>
<circle class="pt" cx="566" cy="401.1" r="1.7"/>
<circle class="pt" cx="557.3" cy="432.8" r="1.7"/>
<circle class="pt" cx="555.2" cy="440.4" r="1.7"/>
<circle class="pt" cx="553.2" cy="456.9" r="1.7"/>
<circle class="pt" cx="550.9" cy="464.1" r="1.7"/>
<circle class="pt" cx="549.2" cy="541.7" r="1.7"/>
<circle class="pt" cx="584.9" cy="362.7" r="1.7"/>
<circle class="pt" cx="589.7" cy="362.7" r="1.7"/>
<circle class="pt" cx="580.9" cy="377" r="1.7"/>
<circle class="pt" cx="585.7" cy="377" r="1.7"/>
<circle class="pt" cx="573.7" cy="381.5" r="1.7"/>
<circle class="pt" cx="580.1" cy="386.6" r="1.7"/>
<circle class="pt" cx="578" cy="410.1" r="1.7"/>
<circle class="pt" cx="575.6" cy="417.6" r="1.7"/>
<circle class="pt" cx="615.7" cy="368.7" r="1.7"/>
<circle class="pt" cx="613.5" cy="381.2" r="1.7"/>
<circle class="pt" cx="611.4" cy="390" r="1.7"/>
<circle class="pt" cx="609.3" cy="411.5" r="1.7"/>
<circle class="pt" cx="607.4" cy="423.7" r="1.7"/>
<circle class="pt" cx="618.6" cy="420" r="1.7"/>
<circle class="pt" cx="622.9" cy="420" r="1.7"/>
<circle class="pt" cx="617.4" cy="467.5" r="1.7"/>
<circle class="pt" cx="657.4" cy="370.6" r="1.7"/>
<circle class="pt" cx="655.2" cy="399.2" r="1.7"/>
<circle class="pt" cx="665.4" cy="361" r="1.7"/>
<circle class="pt" cx="663.2" cy="369" r="1.7"/>
<circle class="pt" cx="661.4" cy="418.1" r="1.7"/>
<circle class="pt" cx="659.5" cy="488.9" r="1.7"/>
<circle class="pt" cx="700.1" cy="355" r="1.7"/>
<circle class="pt" cx="704.4" cy="355" r="1.7"/>
<circle class="pt" cx="698.8" cy="366.8" r="1.7"/>
<circle class="pt" cx="703.6" cy="361" r="1.7"/>
<circle class="pt" cx="707.6" cy="361" r="1.7"/>
<circle class="pt" cx="710.8" cy="361" r="1.7"/>
<circle class="pt" cx="714" cy="361" r="1.7"/>
<circle class="pt" cx="717.2" cy="361" r="1.7"/>
<circle class="pt" cx="705.2" cy="370.6" r="1.7"/>
<circle class="pt" cx="747.6" cy="356.3" r="1.7"/>
<circle class="pt" cx="752.4" cy="356.3" r="1.7"/>
<circle class="pt" cx="746.8" cy="386.8" r="1.7"/>
<circle class="pt" cx="757.3" cy="394.7" r="1.7"/>
<circle class="pt" cx="754.5" cy="432" r="1.7"/>
<circle class="pt" cx="752.6" cy="520.6" r="1.7"/>
<circle class="pt" cx="841.5" cy="528.9" r="1.7"/>
<circle class="pt" cx="839.7" cy="541.7" r="1.7"/>
<circle class="pt" cx="843.5" cy="536.8" r="1.7"/>
<circle class="pt" cx="846.5" cy="536.8" r="1.7"/>
<circle class="pt" cx="850.3" cy="536.8" r="1.7"/>
<line x1="59.1" y1="444.45" x2="880.4" y2="444.45" stroke="#000" stroke-width="1.45" stroke-dasharray="5.3 5.1"/>
<text class="lab" text-anchor="end" transform="translate(113.55,559.45) rotate(-30)">2.27% (1/44)</text>
<text class="lab" text-anchor="end" transform="translate(148.89,559.45) rotate(-30)">4.55% (2/44)</text>
<text class="lab" text-anchor="end" transform="translate(169.79,559.45) rotate(-30)">2.27% (1/44)</text>
<text class="lab" text-anchor="end" transform="translate(251.07,559.45) rotate(-30)">2.27% (1/44)</text>
<text class="lab" text-anchor="end" transform="translate(286.41,559.45) rotate(-30)">18.18% (8/44)</text>
<text class="lab" text-anchor="end" transform="translate(307.31,559.45) rotate(-30)">11.36% (5/44)</text>
<text class="lab" text-anchor="end" transform="translate(332.25,559.45) rotate(-30)">4.55% (2/44)</text>
<text class="lab" text-anchor="end" transform="translate(353.15,559.45) rotate(-30)">9.09% (4/44)</text>
<text class="lab" text-anchor="end" transform="translate(378.09,559.45) rotate(-30)">6.82% (3/44)</text>
<text class="lab" text-anchor="end" transform="translate(398.99,559.45) rotate(-30)">11.36% (5/44)</text>
<text class="lab" text-anchor="end" transform="translate(434.43,559.45) rotate(-30)">2.27% (1/44)</text>
<text class="lab" text-anchor="end" transform="translate(469.77,559.45) rotate(-30)">2.27% (1/44)</text>
<text class="lab" text-anchor="end" transform="translate(490.67,559.45) rotate(-30)">2.27% (1/44)</text>
<text class="lab" text-anchor="end" transform="translate(561.45,559.45) rotate(-30)">29.55% (13/44)</text>
<text class="lab" text-anchor="end" transform="translate(582.35,559.45) rotate(-30)">15.91% (7/44)</text>
<text class="lab" text-anchor="end" transform="translate(607.29,559.45) rotate(-30)">11.36% (5/44)</text>
<text class="lab" text-anchor="end" transform="translate(628.19,559.45) rotate(-30)">6.82% (3/44)</text>
<text class="lab" text-anchor="end" transform="translate(653.13,559.45) rotate(-30)">4.55% (2/44)</text>
<text class="lab" text-anchor="end" transform="translate(674.03,559.45) rotate(-30)">9.09% (4/44)</text>
<text class="lab" text-anchor="end" transform="translate(698.97,559.45) rotate(-30)">6.82% (3/44)</text>
<text class="lab" text-anchor="end" transform="translate(719.87,559.45) rotate(-30)">11.36% (5/44)</text>
<text class="lab" text-anchor="end" transform="translate(744.81,559.45) rotate(-30)">6.82% (3/44)</text>
<text class="lab" text-anchor="end" transform="translate(765.71,559.45) rotate(-30)">6.82% (3/44)</text>
<text class="lab" text-anchor="end" transform="translate(836.49,559.45) rotate(-30)">4.55% (2/44)</text>
<text class="lab" text-anchor="end" transform="translate(857.39,559.45) rotate(-30)">6.82% (3/44)</text>
<rect x="59.1" y="332.25" width="821.3" height="264.3" fill="none" stroke="#444" stroke-width="1.5"/>
</g>
<g>
<rect x="885.7" y="332.25" width="821.3" height="264.3" fill="#fff"/>
<rect class="bar" x="973.39" y="349.9" width="18.9" height="194.45" fill="#5CC855"/>
<clipPath id="c30"><rect x="973.89" y="350.4" width="17.9" height="193.45"/></clipPath>
<path class="st" clip-path="url(#c30)" d="M970.39 361.81L995.29 347.69M970.39 376.91L995.29 362.79M970.39 392.01L995.29 377.89M970.39 407.11L995.29 392.99M970.39 422.21L995.29 408.09M970.39 437.31L995.29 423.19M970.39 452.41L995.29 438.29M970.39 467.51L995.29 453.39M970.39 482.61L995.29 468.49M970.39 497.71L995.29 483.59M970.39 512.81L995.29 498.69M970.39 527.91L995.29 513.79M970.39 543.01L995.29 528.89M970.39 558.11L995.29 543.99"/>
<rect x="973.39" y="349.9" width="18.9" height="194.45" fill="none" stroke="#000" stroke-width="1.1"/>
<rect class="bar" x="1110.91" y="359" width="18.9" height="185.35" fill="#EC8439"/>
<clipPath id="c31"><rect x="1111.41" y="359.5" width="17.9" height="184.35"/></clipPath>
<path class="st" clip-path="url(#c31)" d="M1107.91 359.33L1132.81 345.21M1107.91 374.43L1132.81 360.31M1107.91 389.53L1132.81 375.41M1107.91 404.63L1132.81 390.51M1107.91 419.73L1132.81 405.61M1107.91 434.83L1132.81 420.71M1107.91 449.93L1132.81 435.81M1107.91 465.03L1132.81 450.91M1107.91 480.13L1132.81 466.01M1107.91 495.23L1132.81 481.11M1107.91 510.33L1132.81 496.21M1107.91 525.43L1132.81 511.31M1107.91 540.53L1132.81 526.41M1107.91 555.63L1132.81 541.51"/>
<rect x="1110.91" y="359" width="18.9" height="185.35" fill="none" stroke="#000" stroke-width="1.1"/>
<rect class="bar" x="1375.5" y="390.3" width="18.8" height="154.05" fill="#3F8E82"/>
<rect class="bar" x="1396.5" y="363.9" width="18.6" height="180.45" fill="#3F8E82"/>
<clipPath id="c32"><rect x="1397" y="364.4" width="17.6" height="179.45"/></clipPath>
<path class="st" clip-path="url(#c32)" d="M1393.5 363.5L1418.1 349.55M1393.5 378.6L1418.1 364.65M1393.5 393.7L1418.1 379.75M1393.5 408.8L1418.1 394.85M1393.5 423.9L1418.1 409.95M1393.5 439L1418.1 425.05M1393.5 454.1L1418.1 440.15M1393.5 469.2L1418.1 455.25M1393.5 484.3L1418.1 470.35M1393.5 499.4L1418.1 485.45M1393.5 514.5L1418.1 500.55M1393.5 529.6L1418.1 515.65M1393.5 544.7L1418.1 530.75M1393.5 559.8L1418.1 545.85"/>
<rect x="1396.5" y="363.9" width="18.6" height="180.45" fill="none" stroke="#000" stroke-width="1.1"/>
<rect class="bar" x="1467.18" y="359.8" width="18.8" height="184.55" fill="#AE7530"/>
<rect class="bar" x="1488.18" y="396.4" width="18.6" height="147.95" fill="#AE7530"/>
<clipPath id="c33"><rect x="1488.68" y="396.9" width="17.6" height="146.95"/></clipPath>
<path class="st" clip-path="url(#c33)" d="M1485.18 402.12L1509.78 388.17M1485.18 417.22L1509.78 403.27M1485.18 432.32L1509.78 418.37M1485.18 447.42L1509.78 433.47M1485.18 462.52L1509.78 448.57M1485.18 477.62L1509.78 463.67M1485.18 492.72L1509.78 478.77M1485.18 507.82L1509.78 493.87M1485.18 522.92L1509.78 508.97M1485.18 538.02L1509.78 524.07M1485.18 553.12L1509.78 539.17"/>
<rect x="1488.18" y="396.4" width="18.6" height="147.95" fill="none" stroke="#000" stroke-width="1.1"/>
<rect class="bar" x="1523.47" y="369.1" width="18.9" height="175.25" fill="#8C110E"/>
<clipPath id="c34"><rect x="1523.97" y="369.6" width="17.9" height="174.25"/></clipPath>
<path class="st" clip-path="url(#c34)" d="M1520.47 367.01L1545.37 352.89M1520.47 382.11L1545.37 367.99M1520.47 397.21L1545.37 383.09M1520.47 412.31L1545.37 398.19M1520.47 427.41L1545.37 413.29M1520.47 442.51L1545.37 428.39M1520.47 457.61L1545.37 443.49M1520.47 472.71L1545.37 458.59M1520.47 487.81L1545.37 473.69M1520.47 502.91L1545.37 488.79M1520.47 518.01L1545.37 503.89M1520.47 533.11L1545.37 518.99M1520.47 548.21L1545.37 534.09"/>
<rect x="1523.47" y="369.1" width="18.9" height="175.25" fill="none" stroke="#000" stroke-width="1.1"/>
<rect class="bar" x="1569.31" y="433.9" width="18.9" height="110.45" fill="#879123"/>
<rect class="bar" x="1660.99" y="530.8" width="18.9" height="13.55" fill="#F5D8B0"/>
<line class="md" x1="974.84" y1="349.9" x2="991.04" y2="349.9"/>
<line class="md" x1="1112.36" y1="359" x2="1128.56" y2="359"/>
<rect class="bx" x="1378.9" y="380.7" width="15.6" height="6.4"/>
<line class="md" x1="1378.9" y1="383.1" x2="1394.5" y2="383.1"/>
<line class="md" x1="1396.4" y1="363.9" x2="1412" y2="363.9"/>
<line class="md" x1="1470.58" y1="359.8" x2="1486.18" y2="359.8"/>
<line class="wh" x1="1495.88" y1="408.3" x2="1495.88" y2="414.7"/>
<rect class="bx" x="1488.08" y="393.5" width="15.6" height="14.8"/>
<line class="md" x1="1488.08" y1="405.5" x2="1503.68" y2="405.5"/>
<line class="wh" x1="1533.02" y1="373.5" x2="1533.02" y2="380.4"/>
<rect class="bx" x="1524.92" y="363.5" width="16.2" height="10"/>
<line class="md" x1="1524.92" y1="365" x2="1541.12" y2="365"/>
<line class="wh" x1="1578.86" y1="407.6" x2="1578.86" y2="420.8"/>
<line class="wh" x1="1578.86" y1="446.7" x2="1578.86" y2="460.5"/>
<rect class="bx" x="1570.76" y="420.8" width="16.2" height="25.9"/>
<line class="md" x1="1570.76" y1="433.9" x2="1586.96" y2="433.9"/>
<line class="md" x1="1662.44" y1="530.8" x2="1678.64" y2="530.8"/>
<circle class="pt" cx="982.8" cy="350.3" r="1.7"/>
<circle class="pt" cx="1120.3" cy="359.3" r="1.7"/>
<circle class="pt" cx="1393.9" cy="380.7" r="1.7"/>
<circle class="pt" cx="1398.7" cy="380.7" r="1.7"/>
<circle class="pt" cx="1389.8" cy="386.6" r="1.7"/>
<circle class="pt" cx="1394.3" cy="386.6" r="1.7"/>
<circle class="pt" cx="1389" cy="444" r="1.7"/>
<circle class="pt" cx="1391.5" cy="383.5" r="1.7"/>
<circle class="pt" cx="1401.1" cy="364.5" r="1.7"/>
<circle class="pt" cx="1483.3" cy="360" r="1.7"/>
<circle class="pt" cx="1491.2" cy="358.6" r="1.7"/>
<circle class="pt" cx="1485.6" cy="405.9" r="1.7"/>
<circle class="pt" cx="1490.9" cy="405.9" r="1.7"/>
<circle class="pt" cx="1484.4" cy="415.2" r="1.7"/>
<circle class="pt" cx="1532.5" cy="363.9" r="1.7"/>
<circle class="pt" cx="1536.5" cy="363.9" r="1.7"/>
<circle class="pt" cx="1530.9" cy="380.4" r="1.7"/>
<circle class="pt" cx="1579.8" cy="407.6" r="1.7"/>
<circle class="pt" cx="1577.7" cy="460.5" r="1.7"/>
<circle class="pt" cx="1670.6" cy="531" r="1.7"/>
<line x1="885.7" y1="444.45" x2="1707" y2="444.45" stroke="#000" stroke-width="1.45" stroke-dasharray="5.3 5.1"/>
<text class="lab" text-anchor="end" transform="translate(986.14,559.45) rotate(-30)">10% (1/10)</text>
<text class="lab" text-anchor="end" transform="translate(1123.66,559.45) rotate(-30)">10% (1/10)</text>
<text class="lab" text-anchor="end" transform="translate(1388.2,559.45) rotate(-30)">60% (6/10)</text>
<text class="lab" text-anchor="end" transform="translate(1409.1,559.45) rotate(-30)">10% (1/10)</text>
<text class="lab" text-anchor="end" transform="translate(1479.88,559.45) rotate(-30)">10% (1/10)</text>
<text class="lab" text-anchor="end" transform="translate(1500.78,559.45) rotate(-30)">40% (4/10)</text>
<text class="lab" text-anchor="end" transform="translate(1536.22,559.45) rotate(-30)">30% (3/10)</text>
<text class="lab" text-anchor="end" transform="translate(1582.06,559.45) rotate(-30)">20% (2/10)</text>
<text class="lab" text-anchor="end" transform="translate(1673.74,559.45) rotate(-30)">10% (1/10)</text>
<rect x="885.7" y="332.25" width="821.3" height="264.3" fill="none" stroke="#444" stroke-width="1.5"/>
</g>
<g>
<rect x="59.1" y="602.2" width="821.3" height="264.3" fill="#fff"/>
<rect class="bar" x="136.19" y="622.3" width="18.8" height="192" fill="#5CC855"/>
<rect class="bar" x="157.19" y="621" width="18.6" height="193.3" fill="#5CC855"/>
<clipPath id="c35"><rect x="157.69" y="621.5" width="17.6" height="192.3"/></clipPath>
<path class="st" clip-path="url(#c35)" d="M154.19 625.77L178.79 611.83M154.19 640.87L178.79 626.93M154.19 655.97L178.79 642.03M154.19 671.07L178.79 657.13M154.19 686.17L178.79 672.23M154.19 701.27L178.79 687.33M154.19 716.37L178.79 702.43M154.19 731.47L178.79 717.53M154.19 746.57L178.79 732.63M154.19 761.67L178.79 747.73M154.19 776.77L178.79 762.83M154.19 791.87L178.79 777.93M154.19 806.97L178.79 793.03M154.19 822.07L178.79 808.13"/>
<rect x="157.19" y="621" width="18.6" height="193.3" fill="none" stroke="#000" stroke-width="1.1"/>
<rect class="bar" x="182.03" y="713.2" width="18.8" height="101.1" fill="#F1EC3E"/>
<rect class="bar" x="203.03" y="637.5" width="18.6" height="176.8" fill="#F1EC3E"/>
<clipPath id="c36"><rect x="203.53" y="638" width="17.6" height="175.8"/></clipPath>
<path class="st" clip-path="url(#c36)" d="M200.03 645.08L224.63 631.13M200.03 660.18L224.63 646.23M200.03 675.28L224.63 661.33M200.03 690.38L224.63 676.43M200.03 705.48L224.63 691.53M200.03 720.58L224.63 706.63M200.03 735.68L224.63 721.73M200.03 750.78L224.63 736.83M200.03 765.88L224.63 751.93M200.03 780.98L224.63 767.03M200.03 796.08L224.63 782.13M200.03 811.18L224.63 797.23M200.03 826.28L224.63 812.33"/>
<rect x="203.03" y="637.5" width="18.6" height="176.8" fill="none" stroke="#000" stroke-width="1.1"/>
<rect class="bar" x="273.71" y="655.2" width="18.8" height="159.1" fill="#EC8439"/>
<rect class="bar" x="294.71" y="639.5" width="18.6" height="174.8" fill="#EC8439"/>
<clipPath id="c37"><rect x="295.21" y="640" width="17.6" height="173.8"/></clipPath>
<path class="st" clip-path="url(#c37)" d="M291.71 638.4L316.31 624.45M291.71 653.5L316.31 639.55M291.71 668.6L316.31 654.65M291.71 683.7L316.31 669.75M291.71 698.8L316.31 684.85M291.71 713.9L316.31 699.95M291.71 729L316.31 715.05M291.71 744.1L316.31 730.15M291.71 759.2L316.31 745.25M291.71 774.3L316.31 760.35M291.71 789.4L316.31 775.45M291.71 804.5L316.31 790.55M291.71 819.6L316.31 805.65"/>
<rect x="294.71" y="639.5" width="18.6" height="174.8" fill="none" stroke="#000" stroke-width="1.1"/>
<rect class="bar" x="319.55" y="629.1" width="18.8" height="185.2" fill="#9829CF"/>
<rect class="bar" x="340.55" y="619.4" width="18.6" height="194.9" fill="#9829CF"/>
<clipPath id="c38"><rect x="341.05" y="619.9" width="17.6" height="193.9"/></clipPath>
<path class="st" clip-path="url(#c38)" d="M337.55 627.51L362.15 613.56M337.55 642.61L362.15 628.66M337.55 657.71L362.15 643.76M337.55 672.81L362.15 658.86M337.55 687.91L362.15 673.96M337.55 703.01L362.15 689.06M337.55 718.11L362.15 704.16M337.55 733.21L362.15 719.26M337.55 748.31L362.15 734.36M337.55 763.41L362.15 749.46M337.55 778.51L362.15 764.56M337.55 793.61L362.15 779.66M337.55 808.71L362.15 794.76M337.55 823.81L362.15 809.86"/>
<rect x="340.55" y="619.4" width="18.6" height="194.9" fill="none" stroke="#000" stroke-width="1.1"/>
<rect class="bar" x="365.39" y="639.5" width="18.8" height="174.8" fill="#87FFFB"/>
<rect class="bar" x="386.39" y="625.5" width="18.6" height="188.8" fill="#87FFFB"/>
<clipPath id="c39"><rect x="386.89" y="626" width="17.6" height="187.8"/></clipPath>
<path class="st" clip-path="url(#c39)" d="M383.39 631.72L407.99 617.77M383.39 646.82L407.99 632.87M383.39 661.92L407.99 647.97M383.39 677.02L407.99 663.07M383.39 692.12L407.99 678.17M383.39 707.22L407.99 693.27M383.39 722.32L407.99 708.37M383.39 737.42L407.99 723.47M383.39 752.52L407.99 738.57M383.39 767.62L407.99 753.67M383.39 782.72L407.99 768.77M383.39 797.82L407.99 783.87M383.39 812.92L407.99 798.97M383.39 828.02L407.99 814.07"/>
<rect x="386.39" y="625.5" width="18.6" height="188.8" fill="none" stroke="#000" stroke-width="1.1"/>
<rect class="bar" x="548.75" y="652" width="18.8" height="162.3" fill="#3F8E82"/>
<rect class="bar" x="569.75" y="687.3" width="18.6" height="127" fill="#3F8E82"/>
<clipPath id="c40"><rect x="570.25" y="687.8" width="17.6" height="126"/></clipPath>
<path class="st" clip-path="url(#c40)" d="M566.75 693.85L591.35 679.9M566.75 708.95L591.35 695M566.75 724.05L591.35 710.1M566.75 739.15L591.35 725.2M566.75 754.25L591.35 740.3M566.75 769.35L591.35 755.4M566.75 784.45L591.35 770.5M566.75 799.55L591.35 785.6M566.75 814.65L591.35 800.7M566.75 829.75L591.35 815.8"/>
<rect x="569.75" y="687.3" width="18.6" height="127" fill="none" stroke="#000" stroke-width="1.1"/>
<rect class="bar" x="594.59" y="655.5" width="18.8" height="158.8" fill="#E5BFFF"/>
<rect class="bar" x="615.59" y="640.6" width="18.6" height="173.7" fill="#E5BFFF"/>
<clipPath id="c41"><rect x="616.09" y="641.1" width="17.6" height="172.7"/></clipPath>
<path class="st" clip-path="url(#c41)" d="M612.59 637.66L637.19 623.71M612.59 652.76L637.19 638.81M612.59 667.86L637.19 653.91M612.59 682.96L637.19 669.01M612.59 698.06L637.19 684.11M612.59 713.16L637.19 699.21M612.59 728.26L637.19 714.31M612.59 743.36L637.19 729.41M612.59 758.46L637.19 744.51M612.59 773.56L637.19 759.61M612.59 788.66L637.19 774.71M612.59 803.76L637.19 789.81M612.59 818.86L637.19 804.91"/>
<rect x="615.59" y="640.6" width="18.6" height="173.7" fill="none" stroke="#000" stroke-width="1.1"/>
<rect class="bar" x="650.88" y="665.9" width="18.9" height="148.4" fill="#AE7530"/>
<clipPath id="c42"><rect x="651.38" y="666.4" width="17.9" height="147.4"/></clipPath>
<path class="st" clip-path="url(#c42)" d="M647.88 662.95L672.78 648.83M647.88 678.05L672.78 663.93M647.88 693.15L672.78 679.03M647.88 708.25L672.78 694.13M647.88 723.35L672.78 709.23M647.88 738.45L672.78 724.33M647.88 753.55L672.78 739.43M647.88 768.65L672.78 754.53M647.88 783.75L672.78 769.63M647.88 798.85L672.78 784.73M647.88 813.95L672.78 799.83M647.88 829.05L672.78 814.93"/>
<rect x="650.88" y="665.9" width="18.9" height="148.4" fill="none" stroke="#000" stroke-width="1.1"/>
<rect class="bar" x="686.27" y="631.5" width="18.8" height="182.8" fill="#8C110E"/>
<rect class="bar" x="707.27" y="632.3" width="18.6" height="182" fill="#8C110E"/>
<clipPath id="c43"><rect x="707.77" y="632.8" width="17.6" height="181"/></clipPath>
<path class="st" clip-path="url(#c43)" d="M704.27 630.98L728.87 617.03M704.27 646.08L728.87 632.13M704.27 661.18L728.87 647.23M704.27 676.28L728.87 662.33M704.27 691.38L728.87 677.43M704.27 706.48L728.87 692.53M704.27 721.58L728.87 707.63M704.27 736.68L728.87 722.73M704.27 751.78L728.87 737.83M704.27 766.88L728.87 752.93M704.27 781.98L728.87 768.03M704.27 797.08L728.87 783.13M704.27 812.18L728.87 798.23M704.27 827.28L728.87 813.33"/>
<rect x="707.27" y="632.3" width="18.6" height="182" fill="none" stroke="#000" stroke-width="1.1"/>
<rect class="bar" x="732.11" y="625.9" width="18.8" height="188.4" fill="#879123"/>
<rect class="bar" x="753.11" y="645.9" width="18.6" height="168.4" fill="#879123"/>
<clipPath id="c44"><rect x="753.61" y="646.4" width="17.6" height="167.4"/></clipPath>
<path class="st" clip-path="url(#c44)" d="M750.11 650.29L774.71 636.34M750.11 665.39L774.71 651.44M750.11 680.49L774.71 666.54M750.11 695.59L774.71 681.64M750.11 710.69L774.71 696.74M750.11 725.79L774.71 711.84M750.11 740.89L774.71 726.94M750.11 755.99L774.71 742.04M750.11 771.09L774.71 757.14M750.11 786.19L774.71 772.24M750.11 801.29L774.71 787.34M750.11 816.39L774.71 802.44"/>
<rect x="753.11" y="645.9" width="18.6" height="168.4" fill="none" stroke="#000" stroke-width="1.1"/>
<rect class="bar" x="777.95" y="707.2" width="18.8" height="107.1" fill="#BFFF50"/>
<rect class="bar" x="798.95" y="625" width="18.6" height="189.3" fill="#BFFF50"/>
<clipPath id="c45"><rect x="799.45" y="625.5" width="17.6" height="188.3"/></clipPath>
<path class="st" clip-path="url(#c45)" d="M795.95 624.3L820.55 610.35M795.95 639.4L820.55 625.45M795.95 654.5L820.55 640.55M795.95 669.6L820.55 655.65M795.95 684.7L820.55 670.75M795.95 699.8L820.55 685.85M795.95 714.9L820.55 700.95M795.95 730L820.55 716.05M795.95 745.1L820.55 731.15M795.95 760.2L820.55 746.25M795.95 775.3L820.55 761.35M795.95 790.4L820.55 776.45M795.95 805.5L820.55 791.55M795.95 820.6L820.55 806.65"/>
<rect x="798.95" y="625" width="18.6" height="189.3" fill="none" stroke="#000" stroke-width="1.1"/>
<rect class="bar" x="823.79" y="769.3" width="18.8" height="45" fill="#F5D8B0"/>
<rect class="bar" x="844.79" y="804.8" width="18.6" height="9.5" fill="#F5D8B0"/>
<clipPath id="c46"><rect x="845.29" y="805.3" width="17.6" height="8.5"/></clipPath>
<path class="st" clip-path="url(#c46)" d="M841.79 809.71L866.39 795.76M841.79 824.81L866.39 810.86"/>
<rect x="844.79" y="804.8" width="18.6" height="9.5" fill="none" stroke="#000" stroke-width="1.1"/>
<line class="wh" x1="147.39" y1="616.5" x2="147.39" y2="619.4"/>
<line class="wh" x1="147.39" y1="625.5" x2="147.39" y2="629"/>
<rect class="bx" x="139.59" y="619.4" width="15.6" height="6.1"/>
<line class="md" x1="139.59" y1="622.3" x2="155.19" y2="622.3"/>
<line class="md" x1="157.09" y1="621" x2="172.69" y2="621"/>
<line class="md" x1="185.43" y1="713.2" x2="201.03" y2="713.2"/>
<line class="wh" x1="210.73" y1="621" x2="210.73" y2="629"/>
<line class="wh" x1="210.73" y1="645.1" x2="210.73" y2="653.1"/>
<rect class="bx" x="202.93" y="629" width="15.6" height="16.1"/>
<line class="md" x1="202.93" y1="637.1" x2="218.53" y2="637.1"/>
<line class="wh" x1="284.91" y1="620.7" x2="284.91" y2="631"/>
<line class="wh" x1="284.91" y1="673.1" x2="284.91" y2="692.4"/>
<rect class="bx" x="277.11" y="631" width="15.6" height="42.1"/>
<line class="md" x1="277.11" y1="634.3" x2="292.71" y2="634.3"/>
<line class="wh" x1="302.41" y1="619.4" x2="302.41" y2="625"/>
<rect class="bx" x="294.61" y="625" width="15.6" height="6.1"/>
<line class="md" x1="294.61" y1="628.2" x2="310.21" y2="628.2"/>
<line class="md" x1="322.95" y1="629.1" x2="338.55" y2="629.1"/>
<rect class="bx" x="340.45" y="617.3" width="15.6" height="3.5"/>
<line class="md" x1="340.45" y1="618.5" x2="356.05" y2="618.5"/>
<rect class="bx" x="368.79" y="618.6" width="15.6" height="12.5"/>
<line class="md" x1="368.79" y1="619.2" x2="384.39" y2="619.2"/>
<rect class="bx" x="386.29" y="618.6" width="15.6" height="6.4"/>
<line class="md" x1="386.29" y1="619.4" x2="401.89" y2="619.4"/>
<line class="wh" x1="559.95" y1="639.2" x2="559.95" y2="644"/>
<rect class="bx" x="552.15" y="644" width="15.6" height="9.6"/>
<line class="md" x1="552.15" y1="649.1" x2="567.75" y2="649.1"/>
<line class="wh" x1="577.45" y1="641.1" x2="577.45" y2="652.8"/>
<line class="wh" x1="577.45" y1="705.6" x2="577.45" y2="764.3"/>
<rect class="bx" x="569.65" y="652.8" width="15.6" height="52.8"/>
<line class="md" x1="569.65" y1="671.6" x2="585.25" y2="671.6"/>
<line class="wh" x1="605.79" y1="638.7" x2="605.79" y2="646.7"/>
<line class="wh" x1="605.79" y1="663.9" x2="605.79" y2="671.6"/>
<rect class="bx" x="597.99" y="646.7" width="15.6" height="17.2"/>
<line class="md" x1="597.99" y1="655.5" x2="613.59" y2="655.5"/>
<line class="md" x1="615.49" y1="640.6" x2="631.09" y2="640.6"/>
<line class="wh" x1="660.43" y1="627.9" x2="660.43" y2="641.1"/>
<line class="wh" x1="660.43" y1="657.1" x2="660.43" y2="666"/>
<rect class="bx" x="652.33" y="641.1" width="16.2" height="16"/>
<line class="md" x1="652.33" y1="641.9" x2="668.53" y2="641.9"/>
<line class="wh" x1="697.47" y1="621.5" x2="697.47" y2="628.3"/>
<line class="wh" x1="697.47" y1="635.2" x2="697.47" y2="641.9"/>
<rect class="bx" x="689.67" y="628.3" width="15.6" height="6.9"/>
<line class="md" x1="689.67" y1="631.5" x2="705.27" y2="631.5"/>
<line class="wh" x1="714.97" y1="623.4" x2="714.97" y2="628.3"/>
<line class="wh" x1="714.97" y1="635.2" x2="714.97" y2="641.9"/>
<rect class="bx" x="707.17" y="628.3" width="15.6" height="6.9"/>
<line class="md" x1="707.17" y1="631.5" x2="722.77" y2="631.5"/>
<line class="md" x1="735.51" y1="625.9" x2="751.11" y2="625.9"/>
<line class="wh" x1="760.81" y1="631.1" x2="760.81" y2="634.7"/>
<line class="wh" x1="760.81" y1="653.1" x2="760.81" y2="667.5"/>
<rect class="bx" x="753.01" y="634.7" width="15.6" height="18.4"/>
<line class="md" x1="753.01" y1="637.9" x2="768.61" y2="637.9"/>
<line class="wh" x1="789.15" y1="674" x2="789.15" y2="690.5"/>
<line class="wh" x1="789.15" y1="724.5" x2="789.15" y2="741.3"/>
<rect class="bx" x="781.35" y="690.5" width="15.6" height="34"/>
<line class="md" x1="781.35" y1="707.2" x2="796.95" y2="707.2"/>
<line class="md" x1="798.85" y1="625" x2="814.45" y2="625"/>
<line class="md" x1="827.19" y1="769.3" x2="842.79" y2="769.3"/>
<line class="wh" x1="852.49" y1="800" x2="852.49" y2="803"/>
<line class="wh" x1="852.49" y1="807.5" x2="852.49" y2="809.3"/>
<rect class="bx" x="844.69" y="803" width="15.6" height="4.5"/>
<line class="md" x1="844.69" y1="804.8" x2="860.29" y2="804.8"/>
<circle class="pt" cx="153.7" cy="619.4" r="1.7"/>
<circle class="pt" cx="158.5" cy="619.4" r="1.7"/>
<circle class="pt" cx="153.2" cy="629.5" r="1.7"/>
<circle class="pt" cx="158.5" cy="621.5" r="1.7"/>
<circle class="pt" cx="187.3" cy="713.5" r="1.7"/>
<circle class="pt" cx="199.4" cy="713.4" r="1.7"/>
<circle class="pt" cx="204.2" cy="620.6" r="1.7"/>
<circle class="pt" cx="201.8" cy="653.6" r="1.7"/>
<circle class="pt" cx="282.7" cy="634.3" r="1.7"/>
<circle class="pt" cx="285.9" cy="634.3" r="1.7"/>
<circle class="pt" cx="289.2" cy="634.3" r="1.7"/>
<circle class="pt" cx="292.8" cy="634.3" r="1.7"/>
<circle class="pt" cx="297.6" cy="634.3" r="1.7"/>
<circle class="pt" cx="285.5" cy="663.5" r="1.7"/>
<circle class="pt" cx="283.2" cy="676.7" r="1.7"/>
<circle class="pt" cx="281.1" cy="692.4" r="1.7"/>
<circle class="pt" cx="279.3" cy="746.8" r="1.7"/>
<circle class="pt" cx="294.8" cy="620.7" r="1.7"/>
<circle class="pt" cx="299.3" cy="620.7" r="1.7"/>
<circle class="pt" cx="307.9" cy="619.1" r="1.7"/>
<circle class="pt" cx="297.2" cy="628.7" r="1.7"/>
<circle class="pt" cx="300.4" cy="628.7" r="1.7"/>
<circle class="pt" cx="303.6" cy="628.7" r="1.7"/>
<circle class="pt" cx="306.8" cy="628.7" r="1.7"/>
<circle class="pt" cx="299.6" cy="695.3" r="1.7"/>
<circle class="pt" cx="334.5" cy="629.2" r="1.7"/>
<circle class="pt" cx="330.8" cy="619" r="1.7"/>
<circle class="pt" cx="335.6" cy="619" r="1.7"/>
<circle class="pt" cx="342.1" cy="619" r="1.7"/>
<circle class="pt" cx="345.3" cy="619" r="1.7"/>
<circle class="pt" cx="348.5" cy="619" r="1.7"/>
<circle class="pt" cx="351.7" cy="619" r="1.7"/>
<circle class="pt" cx="369.8" cy="631.1" r="1.7"/>
<circle class="pt" cx="367.7" cy="654.4" r="1.7"/>
<circle class="pt" cx="365.5" cy="761.8" r="1.7"/>
<circle class="pt" cx="364.8" cy="617.8" r="1.7"/>
<circle class="pt" cx="369.5" cy="617.8" r="1.7"/>
<circle class="pt" cx="372.4" cy="617.8" r="1.7"/>
<circle class="pt" cx="375.3" cy="617.8" r="1.7"/>
<circle class="pt" cx="378.2" cy="617.8" r="1.7"/>
<circle class="pt" cx="381.1" cy="617.8" r="1.7"/>
<circle class="pt" cx="386.5" cy="617.8" r="1.7"/>
<circle class="pt" cx="389.4" cy="617.8" r="1.7"/>
<circle class="pt" cx="392.3" cy="617.8" r="1.7"/>
<circle class="pt" cx="395.2" cy="617.8" r="1.7"/>
<circle class="pt" cx="398.1" cy="617.8" r="1.7"/>
<circle class="pt" cx="401" cy="617.8" r="1.7"/>
<circle class="pt" cx="405" cy="617.8" r="1.7"/>
<circle class="pt" cx="409.6" cy="617.8" r="1.7"/>
<circle class="pt" cx="414.6" cy="617.8" r="1.7"/>
<circle class="pt" cx="388.6" cy="629.9" r="1.7"/>
<circle class="pt" cx="387" cy="643.5" r="1.7"/>
<circle class="pt" cx="384.6" cy="668.3" r="1.7"/>
<circle class="pt" cx="560" cy="646.7" r="1.7"/>
<circle class="pt" cx="564.9" cy="646.7" r="1.7"/>
<circle class="pt" cx="569.2" cy="646.7" r="1.7"/>
<circle class="pt" cx="573.7" cy="646.7" r="1.7"/>
<circle class="pt" cx="558.4" cy="655.5" r="1.7"/>
<circle class="pt" cx="562.9" cy="655.5" r="1.7"/>
<circle class="pt" cx="557.3" cy="681.5" r="1.7"/>
<circle class="pt" cx="571.6" cy="638.7" r="1.7"/>
<circle class="pt" cx="580.1" cy="641.1" r="1.7"/>
<circle class="pt" cx="578" cy="657.1" r="1.7"/>
<circle class="pt" cx="575.8" cy="686.3" r="1.7"/>
<circle class="pt" cx="573.7" cy="764.3" r="1.7"/>
<circle class="pt" cx="613.5" cy="638.4" r="1.7"/>
<circle class="pt" cx="611.4" cy="672.4" r="1.7"/>
<circle class="pt" cx="614.6" cy="638.5" r="1.7"/>
<circle class="pt" cx="618.6" cy="640" r="1.7"/>
<circle class="pt" cx="621.8" cy="640" r="1.7"/>
<circle class="pt" cx="666.7" cy="627.5" r="1.7"/>
<circle class="pt" cx="654.2" cy="641.9" r="1.7"/>
<circle class="pt" cx="657.9" cy="641.9" r="1.7"/>
<circle class="pt" cx="661.1" cy="641.9" r="1.7"/>
<circle class="pt" cx="664.3" cy="641.9" r="1.7"/>
<circle class="pt" cx="668.3" cy="641.9" r="1.7"/>
<circle class="pt" cx="656.6" cy="670.4" r="1.7"/>
<circle class="pt" cx="654.3" cy="795.8" r="1.7"/>
<circle class="pt" cx="703.1" cy="621" r="1.7"/>
<circle class="pt" cx="697.2" cy="642.4" r="1.7"/>
<circle class="pt" cx="703.6" cy="639" r="1.7"/>
<circle class="pt" cx="708.1" cy="639" r="1.7"/>
<circle class="pt" cx="715.3" cy="623" r="1.7"/>
<circle class="pt" cx="709.2" cy="630.3" r="1.7"/>
<circle class="pt" cx="712.4" cy="630.3" r="1.7"/>
<circle class="pt" cx="715.6" cy="630.3" r="1.7"/>
<circle class="pt" cx="749.4" cy="626" r="1.7"/>
<circle class="pt" cx="755.3" cy="630.7" r="1.7"/>
<circle class="pt" cx="752.9" cy="638.4" r="1.7"/>
<circle class="pt" cx="751" cy="668" r="1.7"/>
<circle class="pt" cx="797.5" cy="673.6" r="1.7"/>
<circle class="pt" cx="795.7" cy="741.8" r="1.7"/>
<circle class="pt" cx="800.2" cy="625.1" r="1.7"/>
<circle class="pt" cx="841.5" cy="769.5" r="1.7"/>
<circle class="pt" cx="845.6" cy="800" r="1.7"/>
<circle class="pt" cx="844.7" cy="809.3" r="1.7"/>
<line x1="59.1" y1="714.4" x2="880.4" y2="714.4" stroke="#000" stroke-width="1.45" stroke-dasharray="5.3 5.1"/>
<text class="lab" text-anchor="end" transform="translate(148.89,829.4) rotate(-30)">7.14% (3/42)</text>
<text class="lab" text-anchor="end" transform="translate(169.79,829.4) rotate(-30)">2.04% (1/49)</text>
<text class="lab" text-anchor="end" transform="translate(194.73,829.4) rotate(-30)">2.38% (1/42)</text>
<text class="lab" text-anchor="end" transform="translate(215.63,829.4) rotate(-30)">4.08% (2/49)</text>
<text class="lab" text-anchor="end" transform="translate(286.41,829.4) rotate(-30)">23.81% (10/42)</text>
<text class="lab" text-anchor="end" transform="translate(307.31,829.4) rotate(-30)">10.2% (5/49)</text>
<text class="lab" text-anchor="end" transform="translate(332.25,829.4) rotate(-30)">2.38% (1/42)</text>
<text class="lab" text-anchor="end" transform="translate(353.15,829.4) rotate(-30)">10.2% (5/49)</text>
<text class="lab" text-anchor="end" transform="translate(378.09,829.4) rotate(-30)">21.43% (9/42)</text>
<text class="lab" text-anchor="end" transform="translate(398.99,829.4) rotate(-30)">22.45% (11/49)</text>
<text class="lab" text-anchor="end" transform="translate(561.45,829.4) rotate(-30)">19.05% (8/42)</text>
<text class="lab" text-anchor="end" transform="translate(582.35,829.4) rotate(-30)">8.16% (4/49)</text>
<text class="lab" text-anchor="end" transform="translate(607.29,829.4) rotate(-30)">4.76% (2/42)</text>
<text class="lab" text-anchor="end" transform="translate(628.19,829.4) rotate(-30)">4.08% (2/49)</text>
<text class="lab" text-anchor="end" transform="translate(663.63,829.4) rotate(-30)">14.29% (7/49)</text>
<text class="lab" text-anchor="end" transform="translate(698.97,829.4) rotate(-30)">9.52% (4/42)</text>
<text class="lab" text-anchor="end" transform="translate(719.87,829.4) rotate(-30)">12.24% (6/49)</text>
<text class="lab" text-anchor="end" transform="translate(744.81,829.4) rotate(-30)">2.38% (1/42)</text>
<text class="lab" text-anchor="end" transform="translate(765.71,829.4) rotate(-30)">6.12% (3/49)</text>
<text class="lab" text-anchor="end" transform="translate(790.65,829.4) rotate(-30)">4.76% (2/42)</text>
<text class="lab" text-anchor="end" transform="translate(811.55,829.4) rotate(-30)">2.04% (1/49)</text>
<text class="lab" text-anchor="end" transform="translate(836.49,829.4) rotate(-30)">2.38% (1/42)</text>
<text class="lab" text-anchor="end" transform="translate(857.39,829.4) rotate(-30)">4.08% (2/49)</text>
<rect x="59.1" y="602.2" width="821.3" height="264.3" fill="none" stroke="#444" stroke-width="1.5"/>
</g>
<g>
<rect x="885.7" y="602.2" width="821.3" height="264.3" fill="#fff"/>
<rect class="bar" x="927.55" y="622.1" width="18.9" height="192.2" fill="#E7284F"/>
<rect class="bar" x="1008.78" y="618.1" width="18.8" height="196.2" fill="#F1EC3E"/>
<rect class="bar" x="1029.78" y="621.2" width="18.6" height="193.1" fill="#F1EC3E"/>
<clipPath id="c47"><rect x="1030.28" y="621.7" width="17.6" height="192.1"/></clipPath>
<path class="st" clip-path="url(#c47)" d="M1026.78 629.98L1051.38 616.03M1026.78 645.08L1051.38 631.13M1026.78 660.18L1051.38 646.23M1026.78 675.28L1051.38 661.33M1026.78 690.38L1051.38 676.43M1026.78 705.48L1051.38 691.53M1026.78 720.58L1051.38 706.63M1026.78 735.68L1051.38 721.73M1026.78 750.78L1051.38 736.83M1026.78 765.88L1051.38 751.93M1026.78 780.98L1051.38 767.03M1026.78 796.08L1051.38 782.13M1026.78 811.18L1051.38 797.23M1026.78 826.28L1051.38 812.33"/>
<rect x="1029.78" y="621.2" width="18.6" height="193.1" fill="none" stroke="#000" stroke-width="1.1"/>
<rect class="bar" x="1110.91" y="622.1" width="18.9" height="192.2" fill="#EC8439"/>
<clipPath id="c48"><rect x="1111.41" y="622.6" width="17.9" height="191.2"/></clipPath>
<path class="st" clip-path="url(#c48)" d="M1107.91 629.28L1132.81 615.16M1107.91 644.38L1132.81 630.26M1107.91 659.48L1132.81 645.36M1107.91 674.58L1132.81 660.46M1107.91 689.68L1132.81 675.56M1107.91 704.78L1132.81 690.66M1107.91 719.88L1132.81 705.76M1107.91 734.98L1132.81 720.86M1107.91 750.08L1132.81 735.96M1107.91 765.18L1132.81 751.06M1107.91 780.28L1132.81 766.16M1107.91 795.38L1132.81 781.26M1107.91 810.48L1132.81 796.36M1107.91 825.58L1132.81 811.46"/>
<rect x="1110.91" y="622.1" width="18.9" height="192.2" fill="none" stroke="#000" stroke-width="1.1"/>
<rect class="bar" x="1192.14" y="618.1" width="18.8" height="196.2" fill="#87FFFB"/>
<rect class="bar" x="1213.14" y="632.9" width="18.6" height="181.4" fill="#87FFFB"/>
<clipPath id="c49"><rect x="1213.64" y="633.4" width="17.6" height="180.4"/></clipPath>
<path class="st" clip-path="url(#c49)" d="M1210.14 631.72L1234.74 617.77M1210.14 646.82L1234.74 632.87M1210.14 661.92L1234.74 647.97M1210.14 677.02L1234.74 663.07M1210.14 692.12L1234.74 678.17M1210.14 707.22L1234.74 693.27M1210.14 722.32L1234.74 708.37M1210.14 737.42L1234.74 723.47M1210.14 752.52L1234.74 738.57M1210.14 767.62L1234.74 753.67M1210.14 782.72L1234.74 768.77M1210.14 797.82L1234.74 783.87M1210.14 812.92L1234.74 798.97M1210.14 828.02L1234.74 814.07"/>
<rect x="1213.14" y="632.9" width="18.6" height="181.4" fill="none" stroke="#000" stroke-width="1.1"/>
<rect class="bar" x="1294.27" y="687.2" width="18.9" height="127.1" fill="#D3FF4B"/>
<clipPath id="c50"><rect x="1294.77" y="687.7" width="17.9" height="126.1"/></clipPath>
<path class="st" clip-path="url(#c50)" d="M1291.27 691.42L1316.17 677.3M1291.27 706.52L1316.17 692.4M1291.27 721.62L1316.17 707.5M1291.27 736.72L1316.17 722.6M1291.27 751.82L1316.17 737.7M1291.27 766.92L1316.17 752.8M1291.27 782.02L1316.17 767.9M1291.27 797.12L1316.17 783M1291.27 812.22L1316.17 798.1M1291.27 827.32L1316.17 813.2"/>
<rect x="1294.27" y="687.2" width="18.9" height="127.1" fill="none" stroke="#000" stroke-width="1.1"/>
<rect class="bar" x="1340.11" y="799.1" width="18.9" height="15.2" fill="#F2BBBE"/>
<rect class="bar" x="1375.5" y="660.3" width="18.8" height="154" fill="#3F8E82"/>
<rect class="bar" x="1396.5" y="636.3" width="18.6" height="178" fill="#3F8E82"/>
<clipPath id="c51"><rect x="1397" y="636.8" width="17.6" height="177"/></clipPath>
<path class="st" clip-path="url(#c51)" d="M1393.5 633.45L1418.1 619.5M1393.5 648.55L1418.1 634.6M1393.5 663.65L1418.1 649.7M1393.5 678.75L1418.1 664.8M1393.5 693.85L1418.1 679.9M1393.5 708.95L1418.1 695M1393.5 724.05L1418.1 710.1M1393.5 739.15L1418.1 725.2M1393.5 754.25L1418.1 740.3M1393.5 769.35L1418.1 755.4M1393.5 784.45L1418.1 770.5M1393.5 799.55L1418.1 785.6M1393.5 814.65L1418.1 800.7M1393.5 829.75L1418.1 815.8"/>
<rect x="1396.5" y="636.3" width="18.6" height="178" fill="none" stroke="#000" stroke-width="1.1"/>
<rect class="bar" x="1431.79" y="641.6" width="18.9" height="172.7" fill="#E5BFFF"/>
<clipPath id="c52"><rect x="1432.29" y="642.1" width="17.9" height="171.7"/></clipPath>
<path class="st" clip-path="url(#c52)" d="M1428.79 643.64L1453.69 629.53M1428.79 658.74L1453.69 644.63M1428.79 673.84L1453.69 659.73M1428.79 688.94L1453.69 674.83M1428.79 704.04L1453.69 689.93M1428.79 719.14L1453.69 705.03M1428.79 734.24L1453.69 720.13M1428.79 749.34L1453.69 735.23M1428.79 764.44L1453.69 750.33M1428.79 779.54L1453.69 765.43M1428.79 794.64L1453.69 780.53M1428.79 809.74L1453.69 795.63M1428.79 824.84L1453.69 810.73"/>
<rect x="1431.79" y="641.6" width="18.9" height="172.7" fill="none" stroke="#000" stroke-width="1.1"/>
<rect class="bar" x="1467.18" y="692.9" width="18.8" height="121.4" fill="#AE7530"/>
<rect class="bar" x="1488.18" y="698.3" width="18.6" height="116" fill="#AE7530"/>
<clipPath id="c53"><rect x="1488.68" y="698.8" width="17.6" height="115"/></clipPath>
<path class="st" clip-path="url(#c53)" d="M1485.18 702.27L1509.78 688.32M1485.18 717.37L1509.78 703.42M1485.18 732.47L1509.78 718.52M1485.18 747.57L1509.78 733.62M1485.18 762.67L1509.78 748.72M1485.18 777.77L1509.78 763.82M1485.18 792.87L1509.78 778.92M1485.18 807.97L1509.78 794.02M1485.18 823.07L1509.78 809.12"/>
<rect x="1488.18" y="698.3" width="18.6" height="116" fill="none" stroke="#000" stroke-width="1.1"/>
<rect class="bar" x="1523.47" y="636.6" width="18.9" height="177.7" fill="#8C110E"/>
<rect class="bar" x="1558.86" y="630.7" width="18.8" height="183.6" fill="#879123"/>
<rect class="bar" x="1579.86" y="633.5" width="18.6" height="180.8" fill="#879123"/>
<clipPath id="c54"><rect x="1580.36" y="634" width="17.6" height="179.8"/></clipPath>
<path class="st" clip-path="url(#c54)" d="M1576.86 635.19L1601.46 621.24M1576.86 650.29L1601.46 636.34M1576.86 665.39L1601.46 651.44M1576.86 680.49L1601.46 666.54M1576.86 695.59L1601.46 681.64M1576.86 710.69L1601.46 696.74M1576.86 725.79L1601.46 711.84M1576.86 740.89L1601.46 726.94M1576.86 755.99L1601.46 742.04M1576.86 771.09L1601.46 757.14M1576.86 786.19L1601.46 772.24M1576.86 801.29L1601.46 787.34M1576.86 816.39L1601.46 802.44"/>
<rect x="1579.86" y="633.5" width="18.6" height="180.8" fill="none" stroke="#000" stroke-width="1.1"/>
<rect class="bar" x="1615.15" y="780" width="18.9" height="34.3" fill="#BFFF50"/>
<rect class="bar" x="1650.54" y="796" width="18.8" height="18.3" fill="#F5D8B0"/>
<rect class="bar" x="1671.54" y="804.5" width="18.6" height="9.8" fill="#F5D8B0"/>
<clipPath id="c55"><rect x="1672.04" y="805" width="17.6" height="8.8"/></clipPath>
<path class="st" clip-path="url(#c55)" d="M1668.54 809.71L1693.14 795.76M1668.54 824.81L1693.14 810.86"/>
<rect x="1671.54" y="804.5" width="18.6" height="9.8" fill="none" stroke="#000" stroke-width="1.1"/>
<line class="md" x1="929" y1="622.1" x2="945.2" y2="622.1"/>
<line class="md" x1="1012.18" y1="618.1" x2="1027.78" y2="618.1"/>
<line class="md" x1="1029.68" y1="621.2" x2="1045.28" y2="621.2"/>
<line class="md" x1="1112.36" y1="622.1" x2="1128.56" y2="622.1"/>
<line class="md" x1="1195.54" y1="618.1" x2="1211.14" y2="618.1"/>
<line class="wh" x1="1220.84" y1="615.8" x2="1220.84" y2="624.4"/>
<line class="wh" x1="1220.84" y1="641.5" x2="1220.84" y2="650"/>
<rect class="bx" x="1213.04" y="624.4" width="15.6" height="17.1"/>
<line class="md" x1="1213.04" y1="632.9" x2="1228.64" y2="632.9"/>
<line class="md" x1="1295.72" y1="687.2" x2="1311.92" y2="687.2"/>
<line class="md" x1="1341.56" y1="799.1" x2="1357.76" y2="799.1"/>
<line class="md" x1="1378.9" y1="660.3" x2="1394.5" y2="660.3"/>
<line class="md" x1="1396.4" y1="636.3" x2="1412" y2="636.3"/>
<line class="md" x1="1433.24" y1="641.6" x2="1449.44" y2="641.6"/>
<line class="wh" x1="1478.38" y1="621.8" x2="1478.38" y2="636.3"/>
<line class="wh" x1="1478.38" y1="740.6" x2="1478.38" y2="782.4"/>
<rect class="bx" x="1470.58" y="636.3" width="15.6" height="104.3"/>
<line class="md" x1="1470.58" y1="683.9" x2="1486.18" y2="683.9"/>
<line class="wh" x1="1495.88" y1="621.8" x2="1495.88" y2="635.1"/>
<rect class="bx" x="1488.08" y="635.1" width="15.6" height="159.9"/>
<line class="md" x1="1488.08" y1="642.2" x2="1503.68" y2="642.2"/>
<line class="md" x1="1524.92" y1="636.6" x2="1541.12" y2="636.6"/>
<line class="wh" x1="1570.06" y1="623" x2="1570.06" y2="626.6"/>
<line class="wh" x1="1570.06" y1="635.1" x2="1570.06" y2="638.7"/>
<rect class="bx" x="1562.26" y="626.6" width="15.6" height="8.5"/>
<line class="md" x1="1562.26" y1="630.7" x2="1577.86" y2="630.7"/>
<line class="md" x1="1579.76" y1="633.5" x2="1595.36" y2="633.5"/>
<line class="md" x1="1616.6" y1="780" x2="1632.8" y2="780"/>
<line class="wh" x1="1661.74" y1="787.3" x2="1661.74" y2="791.4"/>
<line class="wh" x1="1661.74" y1="800.4" x2="1661.74" y2="805"/>
<rect class="bx" x="1653.94" y="791.4" width="15.6" height="9"/>
<line class="md" x1="1653.94" y1="796" x2="1669.54" y2="796"/>
<line class="md" x1="1671.44" y1="804.5" x2="1687.04" y2="804.5"/>
<circle class="pt" cx="936.9" cy="622.3" r="1.7"/>
<circle class="pt" cx="1025.5" cy="618.3" r="1.7"/>
<circle class="pt" cx="1030.3" cy="619.5" r="1.7"/>
<circle class="pt" cx="1120.5" cy="622.3" r="1.7"/>
<circle class="pt" cx="1207.8" cy="618.3" r="1.7"/>
<circle class="pt" cx="1214.6" cy="615.4" r="1.7"/>
<circle class="pt" cx="1212.3" cy="650" r="1.7"/>
<circle class="pt" cx="1303.8" cy="687.4" r="1.7"/>
<circle class="pt" cx="1349.5" cy="799.3" r="1.7"/>
<circle class="pt" cx="1389.9" cy="660.6" r="1.7"/>
<circle class="pt" cx="1394.4" cy="660.6" r="1.7"/>
<circle class="pt" cx="1392.3" cy="637" r="1.7"/>
<circle class="pt" cx="1397.9" cy="637" r="1.7"/>
<circle class="pt" cx="1402.4" cy="637" r="1.7"/>
<circle class="pt" cx="1441.2" cy="641.8" r="1.7"/>
<circle class="pt" cx="1484.9" cy="621.8" r="1.7"/>
<circle class="pt" cx="1482.8" cy="641.4" r="1.7"/>
<circle class="pt" cx="1480.9" cy="727.2" r="1.7"/>
<circle class="pt" cx="1478.9" cy="782.4" r="1.7"/>
<circle class="pt" cx="1495.3" cy="621.5" r="1.7"/>
<circle class="pt" cx="1489.7" cy="638.7" r="1.7"/>
<circle class="pt" cx="1494.5" cy="638.7" r="1.7"/>
<circle class="pt" cx="1486" cy="796.3" r="1.7"/>
<circle class="pt" cx="1490.9" cy="796.3" r="1.7"/>
<circle class="pt" cx="1533" cy="636.8" r="1.7"/>
<circle class="pt" cx="1577.6" cy="622.6" r="1.7"/>
<circle class="pt" cx="1575.5" cy="639.2" r="1.7"/>
<circle class="pt" cx="1583.2" cy="633.7" r="1.7"/>
<circle class="pt" cx="1579.5" cy="633.7" r="1.7"/>
<circle class="pt" cx="1624.7" cy="780.1" r="1.7"/>
<circle class="pt" cx="1669.4" cy="786.8" r="1.7"/>
<circle class="pt" cx="1667.8" cy="805" r="1.7"/>
<circle class="pt" cx="1671.9" cy="805" r="1.7"/>
<circle class="pt" cx="1675.1" cy="804.7" r="1.7"/>
<line x1="885.7" y1="714.4" x2="1707" y2="714.4" stroke="#000" stroke-width="1.45" stroke-dasharray="5.3 5.1"/>
<text class="lab" text-anchor="end" transform="translate(940.3,829.4) rotate(-30)">5.56% (1/18)</text>
<text class="lab" text-anchor="end" transform="translate(1021.48,829.4) rotate(-30)">11.11% (2/18)</text>
<text class="lab" text-anchor="end" transform="translate(1042.38,829.4) rotate(-30)">5.56% (1/18)</text>
<text class="lab" text-anchor="end" transform="translate(1123.66,829.4) rotate(-30)">5.56% (1/18)</text>
<text class="lab" text-anchor="end" transform="translate(1204.84,829.4) rotate(-30)">11.11% (2/18)</text>
<text class="lab" text-anchor="end" transform="translate(1225.74,829.4) rotate(-30)">11.11% (2/18)</text>
<text class="lab" text-anchor="end" transform="translate(1307.02,829.4) rotate(-30)">5.56% (1/18)</text>
<text class="lab" text-anchor="end" transform="translate(1352.86,829.4) rotate(-30)">5.56% (1/18)</text>
<text class="lab" text-anchor="end" transform="translate(1388.2,829.4) rotate(-30)">11.11% (2/18)</text>
<text class="lab" text-anchor="end" transform="translate(1409.1,829.4) rotate(-30)">16.67% (3/18)</text>
<text class="lab" text-anchor="end" transform="translate(1444.54,829.4) rotate(-30)">5.56% (1/18)</text>
<text class="lab" text-anchor="end" transform="translate(1479.88,829.4) rotate(-30)">22.22% (4/18)</text>
<text class="lab" text-anchor="end" transform="translate(1500.78,829.4) rotate(-30)">27.78% (5/18)</text>
<text class="lab" text-anchor="end" transform="translate(1536.22,829.4) rotate(-30)">5.56% (1/18)</text>
<text class="lab" text-anchor="end" transform="translate(1571.56,829.4) rotate(-30)">11.11% (2/18)</text>
<text class="lab" text-anchor="end" transform="translate(1592.46,829.4) rotate(-30)">11.11% (2/18)</text>
<text class="lab" text-anchor="end" transform="translate(1627.9,829.4) rotate(-30)">5.56% (1/18)</text>
<text class="lab" text-anchor="end" transform="translate(1663.24,829.4) rotate(-30)">11.11% (2/18)</text>
<text class="lab" text-anchor="end" transform="translate(1684.14,829.4) rotate(-30)">11.11% (2/18)</text>
<rect x="885.7" y="602.2" width="821.3" height="264.3" fill="none" stroke="#444" stroke-width="1.5"/>
</g>
<rect x="1748.6" y="93.3" width="36.6" height="38" fill="#fff" stroke="#333" stroke-width="0.9"/>
<rect x="1748.6" y="131.3" width="36.6" height="38.2" fill="#fff" stroke="#333" stroke-width="0.9"/>
<clipPath id="ck"><rect x="1748.6" y="131.3" width="36.6" height="38.2"/></clipPath>
<line x1="1746" y1="163.4" x2="1788" y2="138.5" stroke="#2b2b2b" stroke-width="3.9" clip-path="url(#ck)"/>
<text x="1796.6" y="117.6" font-size="20.8" fill="#000">Baseline</text>
<text x="1796.6" y="155.2" font-size="20.8" fill="#000">Follow-up</text>
<rect x="1752" y="188" width="35.2" height="37.2" fill="#E7284F"/>
<text class="leg" x="1798.8" y="211.05">Lactobacillus crispatus 1</text>
<rect x="1752" y="224.9" width="35.2" height="37.2" fill="#5CC855"/>
<text class="leg" x="1798.8" y="247.95">Lactobacillus crispatus 4</text>
<rect x="1752" y="261.8" width="35.2" height="37.2" fill="#F1EC3E"/>
<text class="leg" x="1798.8" y="284.85">Lactobacillus crispatus 6</text>
<rect x="1752" y="298.7" width="35.2" height="37.2" fill="#418FD1"/>
<text class="leg" x="1798.8" y="321.75">Lactobacillus gasseri 2</text>
<rect x="1752" y="335.6" width="35.2" height="37.2" fill="#EC8439"/>
<text class="leg" x="1798.8" y="360.75">Lactobacillus iners 1</text>
<rect x="1752" y="372.5" width="35.2" height="37.2" fill="#9829CF"/>
<text class="leg" x="1798.8" y="397.65">Lactobacillus iners 2</text>
<rect x="1752" y="409.4" width="35.2" height="37.2" fill="#87FFFB"/>
<text class="leg" x="1798.8" y="434.55">Lactobacillus iners 3</text>
<rect x="1752" y="446.3" width="35.2" height="37.2" fill="#FF43FF"/>
<text class="leg" x="1798.8" y="471.45">Lactobacillus iners 5</text>
<rect x="1752" y="483.2" width="35.2" height="37.2" fill="#D3FF4B"/>
<text class="leg" x="1798.8" y="506.25">Lactobacillus jensenii 1</text>
<rect x="1752" y="520.1" width="35.2" height="37.2" fill="#F2BBBE"/>
<text class="leg" x="1798.8" y="543.15">Lactobacillus jensenii 2</text>
<rect x="1752" y="557" width="35.2" height="37.2" fill="#3F8E82"/>
<text class="leg" x="1798.8" y="580.05">Gardnerella vaginalis 1</text>
<rect x="1752" y="593.9" width="35.2" height="37.2" fill="#E5BFFF"/>
<text class="leg" x="1798.8" y="616.95">Gardnerella vaginalis 2</text>
<rect x="1752" y="630.8" width="35.2" height="37.2" fill="#AE7530"/>
<text class="leg" x="1798.8" y="653.85">Gardnerella vaginalis 3</text>
<rect x="1752" y="667.7" width="35.2" height="37.2" fill="#8C110E"/>
<text class="leg" x="1798.8" y="690.75">Gardnerella vaginalis 4</text>
<rect x="1752" y="704.6" width="35.2" height="37.2" fill="#879123"/>
<text class="leg" x="1798.8" y="727.65">Gardnerella vaginalis 5</text>
<rect x="1752" y="741.5" width="35.2" height="37.2" fill="#BFFF50"/>
<text class="leg" x="1798.8" y="766.65">Bifidobacterium breve</text>
<rect x="1752" y="778.4" width="35.2" height="37.2" fill="#F5D8B0"/>
<text class="leg" x="1798.8" y="803.55">Bifidobacterium dentium</text>
</svg></body></html>
